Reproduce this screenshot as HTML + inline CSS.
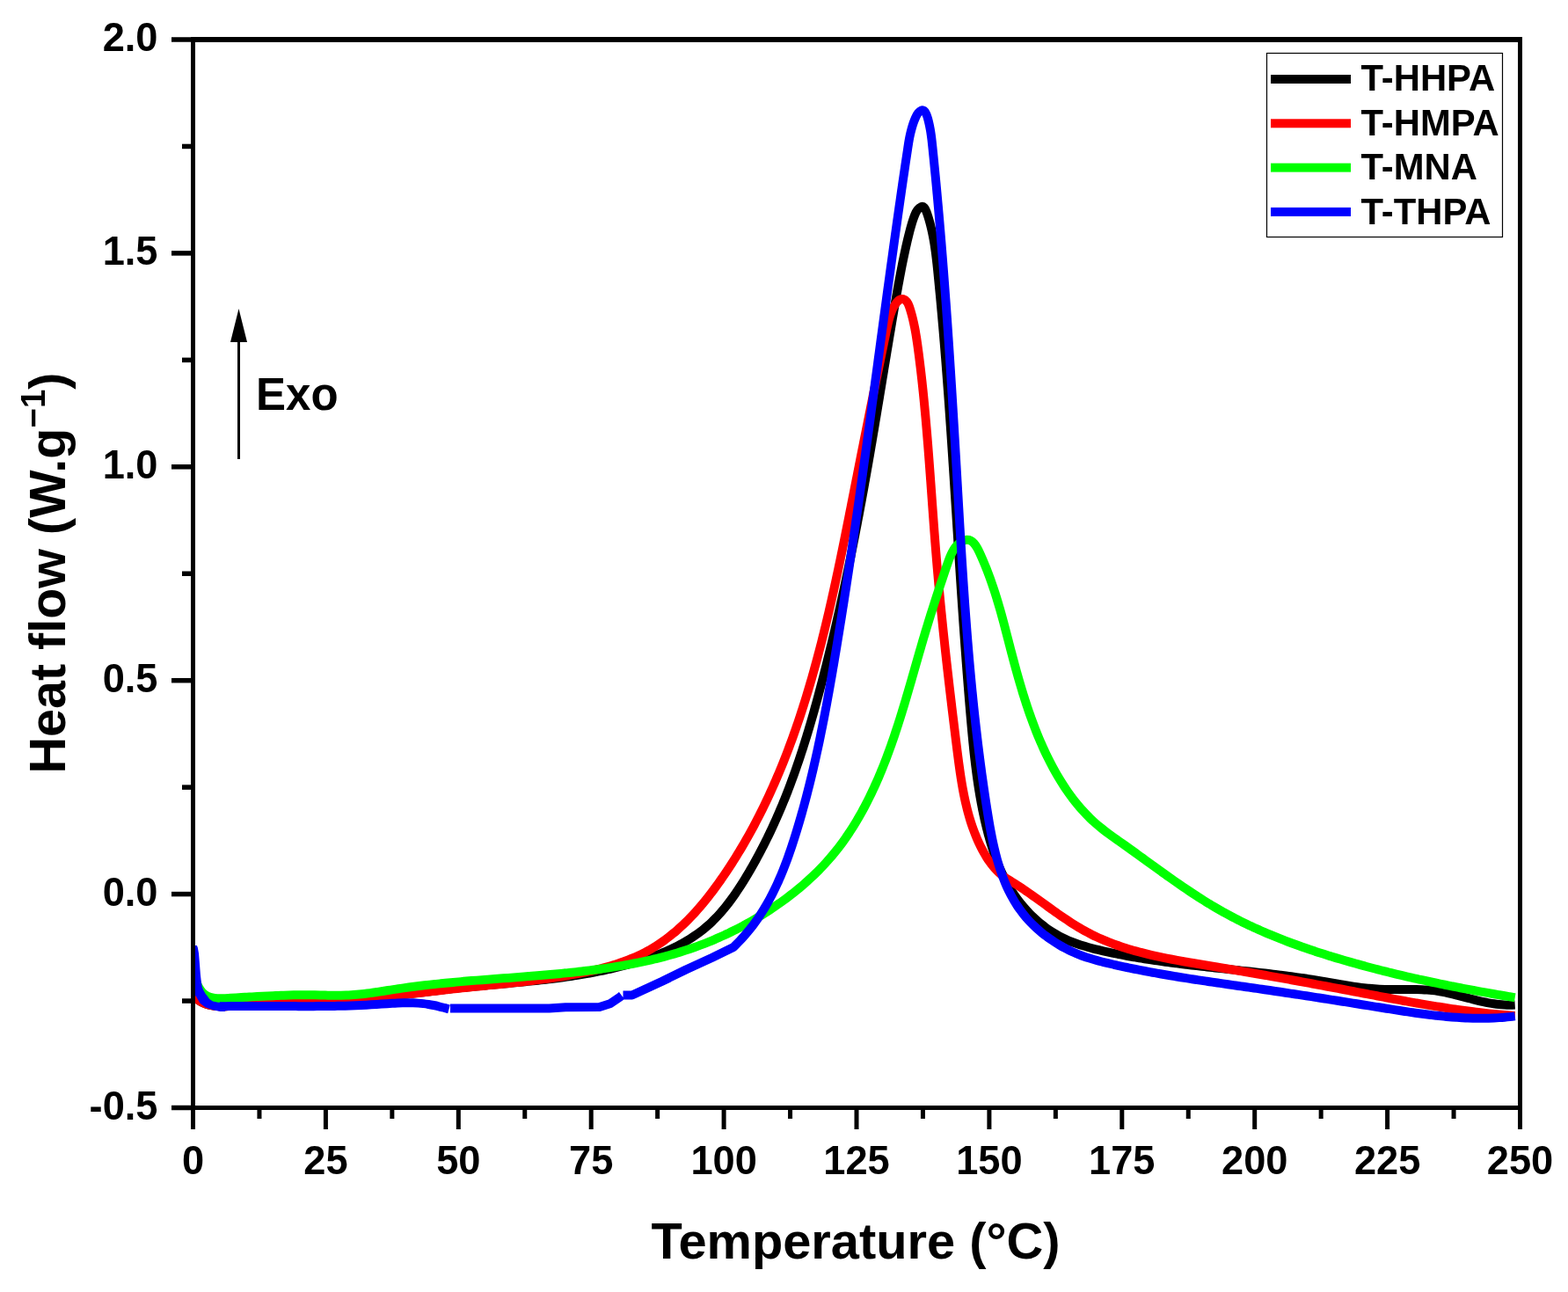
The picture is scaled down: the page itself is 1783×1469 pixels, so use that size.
<!DOCTYPE html>
<html><head><meta charset="utf-8"><title>DSC curves</title>
<style>html,body{margin:0;padding:0;background:#fff;width:1783px;height:1469px;overflow:hidden}svg{display:block}</style>
</head><body>
<svg width="1783" height="1469" viewBox="0 0 1783 1469">
<defs><clipPath id="c"><rect x="222" y="48" width="1504" height="1209"/></clipPath></defs>
<g clip-path="url(#c)">
<path d="M219.00,1131.00 C220.44,1132.68 221.95,1134.17 223.50,1135.47 C225.06,1136.78 226.68,1137.91 228.34,1138.88 C230.01,1139.84 231.72,1140.66 233.47,1141.33 C235.23,1142.00 237.02,1142.54 238.86,1142.96 C240.69,1143.39 242.56,1143.69 244.46,1143.90 C246.36,1144.11 248.29,1144.23 250.24,1144.27 C252.19,1144.31 254.17,1144.28 256.16,1144.20 C258.15,1144.11 260.16,1143.98 262.18,1143.81 C264.20,1143.64 266.23,1143.43 268.26,1143.22 C270.30,1143.01 272.34,1142.78 274.37,1142.57 C276.41,1142.35 278.44,1142.15 280.48,1141.96 C282.51,1141.76 284.54,1141.58 286.57,1141.40 C288.59,1141.23 290.62,1141.06 292.64,1140.91 C294.66,1140.75 296.68,1140.60 298.70,1140.46 C300.72,1140.32 302.74,1140.19 304.75,1140.06 C306.77,1139.93 308.78,1139.81 310.79,1139.70 C312.80,1139.59 314.81,1139.48 316.82,1139.38 C318.83,1139.27 320.83,1139.18 322.84,1139.08 C324.84,1138.99 326.84,1138.90 328.84,1138.82 C330.84,1138.73 332.84,1138.65 334.84,1138.58 C336.84,1138.50 338.84,1138.42 340.83,1138.35 C342.83,1138.28 344.82,1138.21 346.81,1138.14 C348.80,1138.07 350.80,1138.00 352.79,1137.94 C354.78,1137.87 356.76,1137.80 358.75,1137.74 C360.74,1137.67 362.73,1137.60 364.71,1137.53 C366.70,1137.47 368.68,1137.40 370.67,1137.33 C372.65,1137.26 374.63,1137.18 376.62,1137.11 C378.60,1137.03 380.58,1136.96 382.56,1136.88 C384.54,1136.80 386.52,1136.71 388.50,1136.62 C390.48,1136.54 392.46,1136.44 394.44,1136.35 C396.42,1136.25 398.40,1136.15 400.38,1136.04 C402.35,1135.93 404.33,1135.82 406.31,1135.70 C408.29,1135.58 410.26,1135.45 412.24,1135.32 C414.22,1135.19 416.19,1135.04 418.17,1134.90 C420.15,1134.75 422.13,1134.59 424.10,1134.43 C426.08,1134.26 428.06,1134.09 430.03,1133.91 C432.01,1133.73 433.99,1133.54 435.96,1133.35 C437.94,1133.16 439.92,1132.96 441.89,1132.75 C443.87,1132.55 445.85,1132.34 447.83,1132.12 C449.80,1131.91 451.78,1131.69 453.76,1131.47 C455.74,1131.25 457.72,1131.02 459.70,1130.79 C461.68,1130.56 463.65,1130.32 465.63,1130.09 C467.61,1129.85 469.59,1129.61 471.57,1129.37 C473.55,1129.13 475.53,1128.89 477.52,1128.65 C479.50,1128.41 481.48,1128.16 483.46,1127.92 C485.44,1127.68 487.43,1127.43 489.41,1127.19 C491.39,1126.95 493.38,1126.71 495.36,1126.46 C497.35,1126.22 499.33,1125.98 501.32,1125.75 C503.30,1125.51 505.29,1125.27 507.28,1125.04 C509.27,1124.81 511.25,1124.58 513.24,1124.35 C515.23,1124.13 517.22,1123.90 519.21,1123.69 C521.20,1123.47 523.20,1123.25 525.19,1123.04 C527.18,1122.83 529.17,1122.63 531.17,1122.43 C533.16,1122.22 535.15,1122.03 537.15,1121.83 C539.14,1121.63 541.14,1121.44 543.14,1121.25 C545.13,1121.06 547.13,1120.87 549.12,1120.68 C551.12,1120.49 553.12,1120.31 555.11,1120.12 C557.11,1119.94 559.11,1119.75 561.10,1119.57 C563.10,1119.38 565.10,1119.20 567.09,1119.02 C569.09,1118.84 571.09,1118.65 573.08,1118.47 C575.08,1118.29 577.08,1118.10 579.07,1117.92 C581.07,1117.73 583.06,1117.54 585.06,1117.36 C587.05,1117.17 589.05,1116.98 591.04,1116.79 C593.04,1116.59 595.03,1116.40 597.02,1116.20 C599.01,1116.00 601.01,1115.80 603.00,1115.60 C604.99,1115.39 606.98,1115.19 608.97,1114.98 C610.96,1114.77 612.94,1114.55 614.93,1114.33 C616.92,1114.11 618.91,1113.89 620.89,1113.66 C622.87,1113.43 624.86,1113.19 626.84,1112.95 C628.82,1112.71 630.80,1112.47 632.78,1112.21 C634.76,1111.96 636.74,1111.70 638.72,1111.44 C640.69,1111.17 642.67,1110.90 644.64,1110.62 C646.62,1110.34 648.59,1110.06 650.56,1109.76 C652.53,1109.47 654.49,1109.17 656.46,1108.85 C658.43,1108.54 660.39,1108.22 662.35,1107.90 C664.31,1107.57 666.27,1107.23 668.23,1106.88 C670.19,1106.54 672.14,1106.18 674.10,1105.81 C676.05,1105.44 678.00,1105.07 679.95,1104.68 C681.90,1104.29 683.84,1103.89 685.79,1103.48 C687.73,1103.07 689.67,1102.65 691.61,1102.22 C693.55,1101.79 695.48,1101.34 697.42,1100.89 C699.35,1100.43 701.28,1099.96 703.21,1099.48 C705.13,1098.99 707.06,1098.50 708.98,1097.99 C710.90,1097.48 712.82,1096.96 714.73,1096.42 C716.65,1095.88 718.56,1095.33 720.47,1094.77 C722.37,1094.20 724.28,1093.62 726.18,1093.03 C728.08,1092.43 729.98,1091.82 731.88,1091.20 C733.77,1090.57 735.66,1089.93 737.55,1089.27 C739.44,1088.61 741.32,1087.94 743.19,1087.24 C745.07,1086.55 746.94,1085.84 748.80,1085.11 C750.67,1084.38 752.52,1083.63 754.36,1082.86 C756.21,1082.09 758.04,1081.30 759.87,1080.48 C761.69,1079.67 763.50,1078.84 765.30,1077.98 C767.10,1077.12 768.88,1076.24 770.65,1075.33 C772.42,1074.43 774.18,1073.50 775.92,1072.54 C777.65,1071.59 779.37,1070.61 781.08,1069.60 C782.78,1068.59 784.47,1067.56 786.13,1066.49 C787.79,1065.43 789.44,1064.34 791.06,1063.22 C792.68,1062.10 794.28,1060.95 795.86,1059.77 C797.43,1058.58 798.99,1057.37 800.51,1056.13 C802.04,1054.88 803.54,1053.61 805.02,1052.30 C806.49,1050.99 807.94,1049.65 809.37,1048.28 C810.79,1046.92 812.20,1045.52 813.58,1044.10 C814.96,1042.68 816.31,1041.23 817.65,1039.75 C818.98,1038.28 820.30,1036.78 821.59,1035.26 C822.88,1033.74 824.15,1032.20 825.41,1030.64 C826.66,1029.08 827.89,1027.49 829.11,1025.89 C830.32,1024.29 831.52,1022.68 832.70,1021.04 C833.88,1019.41 835.04,1017.76 836.19,1016.10 C837.34,1014.44 838.47,1012.76 839.59,1011.08 C840.70,1009.39 841.80,1007.69 842.89,1005.99 C843.98,1004.28 845.06,1002.57 846.12,1000.84 C847.18,999.12 848.23,997.39 849.27,995.66 C850.31,993.93 851.34,992.19 852.35,990.45 C853.37,988.71 854.38,986.96 855.38,985.22 C856.37,983.47 857.36,981.72 858.33,979.96 C859.31,978.21 860.28,976.45 861.23,974.69 C862.19,972.92 863.13,971.16 864.07,969.39 C865.01,967.62 865.93,965.85 866.85,964.07 C867.77,962.30 868.68,960.52 869.57,958.74 C870.47,956.96 871.36,955.17 872.24,953.38 C873.12,951.59 873.99,949.80 874.85,948.00 C875.71,946.21 876.57,944.41 877.41,942.61 C878.25,940.81 879.09,939.00 879.92,937.19 C880.74,935.38 881.56,933.57 882.37,931.76 C883.18,929.94 883.98,928.12 884.77,926.30 C885.57,924.48 886.35,922.65 887.13,920.83 C887.91,919.00 888.68,917.17 889.44,915.33 C890.20,913.50 890.95,911.66 891.70,909.82 C892.44,907.98 893.18,906.14 893.91,904.29 C894.65,902.44 895.37,900.59 896.09,898.74 C896.80,896.89 897.51,895.03 898.21,893.17 C898.92,891.31 899.61,889.45 900.30,887.59 C900.99,885.72 901.67,883.85 902.35,881.98 C903.02,880.11 903.69,878.24 904.36,876.36 C905.02,874.48 905.68,872.60 906.33,870.72 C906.98,868.84 907.62,866.95 908.26,865.07 C908.90,863.18 909.53,861.29 910.16,859.40 C910.78,857.50 911.40,855.61 912.02,853.71 C912.64,851.82 913.25,849.92 913.85,848.02 C914.46,846.11 915.06,844.21 915.65,842.30 C916.24,840.40 916.83,838.49 917.42,836.58 C918.00,834.67 918.58,832.76 919.16,830.85 C919.73,828.94 920.30,827.02 920.87,825.11 C921.44,823.19 922.00,821.27 922.55,819.35 C923.11,817.43 923.66,815.51 924.21,813.59 C924.76,811.67 925.31,809.74 925.85,807.82 C926.39,805.89 926.93,803.97 927.46,802.04 C928.00,800.11 928.53,798.18 929.05,796.25 C929.58,794.33 930.10,792.40 930.62,790.46 C931.14,788.53 931.66,786.60 932.18,784.67 C932.69,782.74 933.20,780.80 933.71,778.87 C934.22,776.93 934.72,775.00 935.23,773.06 C935.73,771.13 936.23,769.19 936.73,767.26 C937.23,765.32 937.72,763.38 938.22,761.45 C938.71,759.51 939.20,757.57 939.69,755.63 C940.17,753.69 940.66,751.76 941.14,749.82 C941.62,747.88 942.10,745.94 942.58,744.00 C943.06,742.06 943.53,740.12 944.01,738.17 C944.48,736.23 944.95,734.29 945.42,732.35 C945.89,730.41 946.35,728.46 946.82,726.52 C947.28,724.58 947.74,722.63 948.20,720.69 C948.66,718.75 949.11,716.80 949.57,714.86 C950.02,712.91 950.47,710.97 950.92,709.02 C951.37,707.07 951.82,705.13 952.26,703.18 C952.71,701.23 953.15,699.29 953.59,697.34 C954.03,695.39 954.47,693.44 954.90,691.50 C955.34,689.55 955.77,687.60 956.21,685.65 C956.64,683.70 957.07,681.75 957.50,679.80 C957.92,677.85 958.35,675.90 958.77,673.95 C959.20,672.00 959.62,670.05 960.04,668.10 C960.46,666.15 960.87,664.19 961.29,662.24 C961.70,660.29 962.12,658.34 962.53,656.38 C962.94,654.43 963.35,652.48 963.76,650.52 C964.17,648.57 964.57,646.62 964.97,644.66 C965.38,642.71 965.78,640.75 966.18,638.80 C966.58,636.85 966.98,634.89 967.38,632.93 C967.77,630.98 968.17,629.02 968.56,627.07 C968.95,625.11 969.34,623.16 969.73,621.20 C970.12,619.24 970.51,617.29 970.90,615.33 C971.28,613.37 971.67,611.41 972.05,609.46 C972.43,607.50 972.81,605.54 973.19,603.58 C973.57,601.62 973.95,599.67 974.33,597.71 C974.70,595.75 975.08,593.79 975.45,591.83 C975.82,589.87 976.20,587.91 976.57,585.95 C976.94,583.99 977.30,582.03 977.67,580.07 C978.04,578.11 978.40,576.15 978.77,574.19 C979.13,572.23 979.50,570.27 979.86,568.31 C980.22,566.35 980.58,564.39 980.94,562.43 C981.29,560.47 981.65,558.51 982.01,556.54 C982.36,554.58 982.72,552.62 983.07,550.66 C983.42,548.70 983.78,546.73 984.13,544.77 C984.48,542.81 984.83,540.85 985.17,538.89 C985.52,536.92 985.87,534.96 986.21,533.00 C986.56,531.04 986.90,529.07 987.25,527.11 C987.59,525.15 987.93,523.18 988.27,521.22 C988.62,519.26 988.96,517.29 989.29,515.33 C989.63,513.37 989.97,511.40 990.31,509.44 C990.64,507.48 990.98,505.51 991.32,503.55 C991.65,501.58 991.98,499.62 992.32,497.65 C992.65,495.69 992.98,493.73 993.32,491.76 C993.65,489.80 993.98,487.83 994.31,485.87 C994.64,483.90 994.97,481.94 995.30,479.97 C995.63,478.00 995.96,476.04 996.29,474.07 C996.61,472.11 996.94,470.14 997.27,468.18 C997.60,466.21 997.92,464.24 998.25,462.28 C998.58,460.31 998.90,458.34 999.23,456.38 C999.55,454.41 999.88,452.44 1000.21,450.47 C1000.53,448.51 1000.86,446.54 1001.18,444.57 C1001.51,442.60 1001.83,440.64 1002.16,438.67 C1002.48,436.70 1002.81,434.73 1003.13,432.76 C1003.46,430.79 1003.78,428.82 1004.11,426.85 C1004.43,424.88 1004.76,422.91 1005.08,420.94 C1005.41,418.97 1005.73,417.00 1006.06,415.03 C1006.38,413.06 1006.71,411.09 1007.03,409.12 C1007.36,407.15 1007.69,405.18 1008.01,403.21 C1008.34,401.24 1008.67,399.26 1009.00,397.29 C1009.32,395.32 1009.65,393.35 1009.98,391.38 C1010.31,389.40 1010.64,387.43 1010.97,385.46 C1011.30,383.48 1011.63,381.51 1011.96,379.54 C1012.29,377.56 1012.62,375.59 1012.95,373.61 C1013.29,371.64 1013.62,369.66 1013.95,367.69 C1014.29,365.71 1014.62,363.74 1014.96,361.76 C1015.30,359.79 1015.63,357.81 1015.97,355.83 C1016.31,353.86 1016.65,351.88 1016.99,349.90 C1017.33,347.92 1017.67,345.95 1018.01,343.97 C1018.35,341.99 1018.69,340.01 1019.04,338.03 C1019.38,336.06 1019.73,334.08 1020.08,332.10 C1020.43,330.13 1020.78,328.15 1021.14,326.18 C1021.49,324.21 1021.85,322.23 1022.21,320.27 C1022.57,318.30 1022.93,316.33 1023.30,314.36 C1023.67,312.40 1024.04,310.44 1024.42,308.48 C1024.79,306.52 1025.17,304.57 1025.56,302.61 C1025.94,300.66 1026.33,298.72 1026.73,296.77 C1027.13,294.83 1027.53,292.89 1027.93,290.96 C1028.34,289.03 1028.75,287.10 1029.17,285.18 C1029.59,283.25 1030.02,281.34 1030.45,279.43 C1030.88,277.52 1031.32,275.61 1031.77,273.72 C1032.21,271.82 1032.67,269.93 1033.13,268.04 C1033.59,266.16 1034.07,264.28 1034.57,262.37 C1035.07,260.47 1035.60,258.55 1036.17,256.58 C1036.74,254.61 1037.36,252.60 1038.03,250.51 C1038.71,248.43 1039.44,246.26 1040.30,244.20 C1041.17,242.13 1042.17,240.19 1043.39,238.58 C1044.62,236.98 1046.12,235.68 1047.51,235.15 C1048.90,234.62 1050.10,235.00 1051.07,236.10 C1052.03,237.20 1052.80,238.93 1053.50,240.81 C1054.19,242.70 1054.83,244.67 1055.44,246.61 C1056.05,248.55 1056.62,250.50 1057.16,252.45 C1057.70,254.40 1058.20,256.36 1058.68,258.32 C1059.15,260.27 1059.60,262.23 1060.02,264.20 C1060.44,266.16 1060.83,268.13 1061.20,270.10 C1061.57,272.07 1061.91,274.05 1062.24,276.02 C1062.56,278.00 1062.87,279.98 1063.15,281.96 C1063.44,283.94 1063.71,285.92 1063.97,287.90 C1064.22,289.89 1064.47,291.87 1064.70,293.86 C1064.93,295.84 1065.15,297.83 1065.37,299.82 C1065.58,301.81 1065.79,303.79 1066.00,305.78 C1066.20,307.77 1066.40,309.76 1066.60,311.75 C1066.80,313.74 1066.99,315.73 1067.19,317.72 C1067.38,319.71 1067.58,321.70 1067.77,323.68 C1067.96,325.67 1068.15,327.66 1068.34,329.65 C1068.53,331.64 1068.72,333.63 1068.91,335.62 C1069.10,337.61 1069.28,339.60 1069.47,341.59 C1069.65,343.57 1069.83,345.56 1070.01,347.55 C1070.19,349.54 1070.37,351.53 1070.55,353.52 C1070.73,355.51 1070.91,357.50 1071.09,359.49 C1071.26,361.48 1071.44,363.46 1071.61,365.45 C1071.78,367.44 1071.96,369.43 1072.13,371.42 C1072.30,373.41 1072.47,375.40 1072.64,377.39 C1072.81,379.38 1072.97,381.37 1073.14,383.35 C1073.31,385.34 1073.47,387.33 1073.64,389.32 C1073.80,391.31 1073.96,393.30 1074.13,395.29 C1074.29,397.28 1074.45,399.27 1074.61,401.26 C1074.77,403.24 1074.93,405.23 1075.09,407.22 C1075.24,409.21 1075.40,411.20 1075.56,413.19 C1075.71,415.18 1075.87,417.17 1076.02,419.16 C1076.18,421.15 1076.33,423.13 1076.48,425.12 C1076.63,427.11 1076.79,429.10 1076.94,431.09 C1077.09,433.08 1077.24,435.07 1077.38,437.06 C1077.53,439.05 1077.68,441.04 1077.83,443.03 C1077.98,445.02 1078.12,447.00 1078.27,448.99 C1078.41,450.98 1078.56,452.97 1078.70,454.96 C1078.84,456.95 1078.99,458.94 1079.13,460.93 C1079.27,462.92 1079.41,464.91 1079.56,466.90 C1079.70,468.89 1079.84,470.88 1079.98,472.87 C1080.12,474.85 1080.26,476.84 1080.39,478.83 C1080.53,480.82 1080.67,482.81 1080.81,484.80 C1080.94,486.79 1081.08,488.78 1081.22,490.77 C1081.35,492.76 1081.49,494.75 1081.62,496.74 C1081.76,498.73 1081.89,500.72 1082.03,502.71 C1082.16,504.70 1082.29,506.69 1082.43,508.68 C1082.56,510.67 1082.69,512.66 1082.83,514.65 C1082.96,516.64 1083.09,518.63 1083.22,520.62 C1083.35,522.61 1083.48,524.60 1083.61,526.59 C1083.74,528.57 1083.87,530.56 1084.00,532.55 C1084.13,534.54 1084.26,536.53 1084.39,538.52 C1084.52,540.51 1084.65,542.50 1084.78,544.50 C1084.91,546.49 1085.04,548.48 1085.17,550.47 C1085.29,552.46 1085.42,554.45 1085.55,556.44 C1085.68,558.43 1085.81,560.42 1085.93,562.41 C1086.06,564.40 1086.19,566.39 1086.32,568.38 C1086.44,570.37 1086.57,572.36 1086.70,574.35 C1086.82,576.34 1086.95,578.33 1087.08,580.32 C1087.21,582.31 1087.33,584.30 1087.46,586.29 C1087.59,588.28 1087.71,590.27 1087.84,592.27 C1087.97,594.26 1088.09,596.25 1088.22,598.24 C1088.35,600.23 1088.47,602.22 1088.60,604.21 C1088.73,606.20 1088.85,608.19 1088.98,610.18 C1089.11,612.17 1089.24,614.17 1089.36,616.16 C1089.49,618.15 1089.62,620.14 1089.74,622.13 C1089.87,624.12 1090.00,626.11 1090.13,628.10 C1090.26,630.10 1090.38,632.09 1090.51,634.08 C1090.64,636.07 1090.77,638.06 1090.90,640.05 C1091.03,642.05 1091.16,644.04 1091.29,646.03 C1091.42,648.02 1091.55,650.01 1091.68,652.00 C1091.81,654.00 1091.94,655.99 1092.07,657.98 C1092.20,659.97 1092.33,661.96 1092.46,663.96 C1092.59,665.95 1092.72,667.94 1092.86,669.93 C1092.99,671.92 1093.12,673.92 1093.25,675.91 C1093.39,677.90 1093.52,679.89 1093.66,681.89 C1093.79,683.88 1093.92,685.87 1094.06,687.86 C1094.19,689.86 1094.33,691.85 1094.47,693.84 C1094.60,695.83 1094.74,697.83 1094.88,699.82 C1095.01,701.81 1095.15,703.81 1095.29,705.80 C1095.43,707.79 1095.57,709.79 1095.71,711.78 C1095.85,713.77 1095.99,715.76 1096.13,717.76 C1096.27,719.75 1096.41,721.74 1096.56,723.74 C1096.70,725.73 1096.84,727.73 1096.99,729.72 C1097.13,731.71 1097.28,733.71 1097.42,735.70 C1097.57,737.69 1097.71,739.69 1097.86,741.68 C1098.01,743.68 1098.16,745.67 1098.31,747.66 C1098.45,749.66 1098.60,751.65 1098.75,753.65 C1098.91,755.64 1099.06,757.63 1099.21,759.63 C1099.36,761.62 1099.52,763.62 1099.67,765.61 C1099.82,767.61 1099.98,769.60 1100.14,771.60 C1100.29,773.59 1100.45,775.59 1100.61,777.58 C1100.77,779.58 1100.93,781.57 1101.09,783.57 C1101.25,785.56 1101.41,787.56 1101.57,789.55 C1101.73,791.55 1101.90,793.54 1102.06,795.54 C1102.22,797.53 1102.39,799.53 1102.56,801.52 C1102.72,803.52 1102.89,805.51 1103.06,807.51 C1103.23,809.51 1103.40,811.50 1103.57,813.50 C1103.74,815.49 1103.92,817.49 1104.09,819.49 C1104.27,821.48 1104.44,823.48 1104.62,825.47 C1104.80,827.47 1104.98,829.46 1105.17,831.46 C1105.35,833.46 1105.54,835.45 1105.73,837.44 C1105.92,839.44 1106.11,841.43 1106.31,843.42 C1106.50,845.42 1106.70,847.41 1106.91,849.40 C1107.12,851.39 1107.33,853.38 1107.54,855.37 C1107.76,857.36 1107.98,859.35 1108.20,861.34 C1108.43,863.32 1108.66,865.31 1108.90,867.29 C1109.13,869.28 1109.38,871.26 1109.63,873.24 C1109.88,875.22 1110.13,877.20 1110.40,879.18 C1110.66,881.16 1110.93,883.13 1111.21,885.11 C1111.49,887.08 1111.78,889.06 1112.07,891.03 C1112.37,893.00 1112.67,894.97 1112.98,896.93 C1113.30,898.90 1113.62,900.86 1113.95,902.82 C1114.28,904.79 1114.62,906.74 1114.97,908.70 C1115.32,910.66 1115.68,912.61 1116.05,914.56 C1116.42,916.52 1116.80,918.46 1117.19,920.41 C1117.58,922.36 1117.99,924.30 1118.40,926.24 C1118.81,928.18 1119.24,930.12 1119.68,932.05 C1120.12,933.98 1120.57,935.91 1121.03,937.84 C1121.49,939.77 1121.97,941.69 1122.46,943.61 C1122.95,945.53 1123.45,947.45 1123.96,949.36 C1124.48,951.27 1125.01,953.18 1125.56,955.08 C1126.11,956.99 1126.67,958.88 1127.25,960.77 C1127.83,962.66 1128.43,964.55 1129.05,966.43 C1129.67,968.30 1130.31,970.17 1130.97,972.04 C1131.63,973.90 1132.31,975.75 1133.01,977.60 C1133.71,979.44 1134.44,981.28 1135.19,983.10 C1135.94,984.93 1136.71,986.75 1137.51,988.55 C1138.31,990.36 1139.13,992.15 1139.99,993.93 C1140.84,995.71 1141.72,997.48 1142.63,999.24 C1143.54,1001.00 1144.47,1002.74 1145.44,1004.47 C1146.41,1006.20 1147.41,1007.92 1148.44,1009.62 C1149.47,1011.33 1150.53,1013.01 1151.63,1014.68 C1152.72,1016.36 1153.85,1018.01 1155.02,1019.65 C1156.18,1021.29 1157.38,1022.91 1158.61,1024.52 C1159.85,1026.12 1161.11,1027.70 1162.41,1029.26 C1163.71,1030.83 1165.03,1032.37 1166.39,1033.88 C1167.75,1035.39 1169.14,1036.88 1170.56,1038.35 C1171.98,1039.81 1173.43,1041.24 1174.90,1042.65 C1176.38,1044.05 1177.88,1045.43 1179.40,1046.77 C1180.93,1048.11 1182.49,1049.42 1184.06,1050.69 C1185.64,1051.97 1187.24,1053.21 1188.87,1054.41 C1190.50,1055.61 1192.14,1056.77 1193.81,1057.89 C1195.48,1059.02 1197.18,1060.10 1198.89,1061.14 C1200.60,1062.17 1202.33,1063.17 1204.08,1064.12 C1205.83,1065.07 1207.60,1065.97 1209.39,1066.83 C1211.18,1067.69 1212.98,1068.51 1214.80,1069.29 C1216.61,1070.06 1218.45,1070.80 1220.29,1071.51 C1222.14,1072.21 1224.00,1072.88 1225.87,1073.52 C1227.74,1074.15 1229.63,1074.76 1231.52,1075.34 C1233.41,1075.93 1235.31,1076.48 1237.22,1077.01 C1239.13,1077.55 1241.05,1078.06 1242.97,1078.55 C1244.89,1079.04 1246.82,1079.52 1248.76,1079.98 C1250.69,1080.44 1252.63,1080.88 1254.57,1081.32 C1256.51,1081.76 1258.45,1082.19 1260.39,1082.60 C1262.33,1083.02 1264.28,1083.43 1266.23,1083.83 C1268.17,1084.24 1270.12,1084.63 1272.07,1085.01 C1274.02,1085.40 1275.98,1085.77 1277.93,1086.14 C1279.89,1086.51 1281.84,1086.87 1283.80,1087.23 C1285.76,1087.58 1287.72,1087.92 1289.68,1088.26 C1291.64,1088.60 1293.60,1088.93 1295.57,1089.26 C1297.53,1089.59 1299.50,1089.90 1301.46,1090.22 C1303.43,1090.53 1305.40,1090.84 1307.37,1091.14 C1309.34,1091.44 1311.31,1091.73 1313.28,1092.02 C1315.25,1092.31 1317.23,1092.59 1319.20,1092.87 C1321.18,1093.15 1323.15,1093.42 1325.13,1093.69 C1327.11,1093.96 1329.08,1094.23 1331.06,1094.49 C1333.04,1094.75 1335.02,1095.00 1337.00,1095.25 C1338.98,1095.51 1340.96,1095.75 1342.95,1096.00 C1344.93,1096.24 1346.91,1096.48 1348.90,1096.72 C1350.88,1096.96 1352.86,1097.19 1354.85,1097.42 C1356.84,1097.66 1358.82,1097.88 1360.81,1098.11 C1362.79,1098.34 1364.78,1098.56 1366.77,1098.78 C1368.76,1099.01 1370.74,1099.23 1372.73,1099.44 C1374.72,1099.66 1376.71,1099.88 1378.70,1100.10 C1380.69,1100.31 1382.68,1100.53 1384.67,1100.74 C1386.66,1100.95 1388.65,1101.17 1390.64,1101.38 C1392.63,1101.59 1394.62,1101.80 1396.61,1102.02 C1398.60,1102.23 1400.59,1102.44 1402.58,1102.65 C1404.57,1102.86 1406.56,1103.08 1408.55,1103.29 C1410.54,1103.50 1412.53,1103.72 1414.52,1103.93 C1416.51,1104.15 1418.50,1104.36 1420.49,1104.58 C1422.48,1104.80 1424.47,1105.02 1426.46,1105.24 C1428.45,1105.46 1430.44,1105.68 1432.42,1105.91 C1434.41,1106.13 1436.40,1106.36 1438.39,1106.59 C1440.37,1106.82 1442.36,1107.05 1444.35,1107.29 C1446.33,1107.53 1448.32,1107.76 1450.30,1108.01 C1452.29,1108.25 1454.27,1108.49 1456.25,1108.74 C1458.24,1108.99 1460.22,1109.25 1462.20,1109.50 C1464.18,1109.76 1466.17,1110.02 1468.15,1110.29 C1470.13,1110.56 1472.10,1110.83 1474.08,1111.10 C1476.06,1111.38 1478.04,1111.66 1480.01,1111.95 C1481.99,1112.23 1483.96,1112.52 1485.94,1112.82 C1487.91,1113.12 1489.88,1113.42 1491.85,1113.73 C1493.83,1114.04 1495.80,1114.35 1497.76,1114.68 C1499.73,1115.00 1501.70,1115.33 1503.67,1115.66 C1505.63,1115.99 1507.60,1116.33 1509.56,1116.67 C1511.53,1117.01 1513.49,1117.36 1515.45,1117.70 C1517.42,1118.04 1519.38,1118.38 1521.34,1118.72 C1523.30,1119.06 1525.27,1119.39 1527.23,1119.72 C1529.20,1120.05 1531.16,1120.37 1533.12,1120.68 C1535.09,1121.00 1537.06,1121.30 1539.02,1121.59 C1540.99,1121.88 1542.96,1122.16 1544.93,1122.43 C1546.90,1122.70 1548.87,1122.95 1550.85,1123.18 C1552.82,1123.41 1554.80,1123.63 1556.78,1123.83 C1558.76,1124.02 1560.74,1124.20 1562.72,1124.35 C1564.71,1124.51 1566.70,1124.64 1568.69,1124.74 C1570.68,1124.85 1572.67,1124.92 1574.67,1124.98 C1576.67,1125.03 1578.67,1125.07 1580.67,1125.09 C1582.67,1125.10 1584.68,1125.11 1586.68,1125.10 C1588.69,1125.10 1590.69,1125.08 1592.70,1125.07 C1594.71,1125.05 1596.71,1125.04 1598.72,1125.03 C1600.72,1125.02 1602.73,1125.01 1604.73,1125.02 C1606.73,1125.02 1608.73,1125.04 1610.73,1125.08 C1612.73,1125.12 1614.72,1125.18 1616.71,1125.26 C1618.70,1125.34 1620.69,1125.45 1622.67,1125.59 C1624.65,1125.73 1626.63,1125.91 1628.60,1126.12 C1630.57,1126.34 1632.54,1126.59 1634.49,1126.89 C1636.45,1127.18 1638.41,1127.52 1640.36,1127.88 C1642.31,1128.25 1644.25,1128.64 1646.19,1129.06 C1648.13,1129.49 1650.07,1129.93 1652.01,1130.39 C1653.94,1130.86 1655.88,1131.34 1657.81,1131.83 C1659.74,1132.32 1661.67,1132.82 1663.60,1133.33 C1665.54,1133.83 1667.47,1134.34 1669.40,1134.85 C1671.33,1135.35 1673.27,1135.86 1675.20,1136.35 C1677.14,1136.84 1679.08,1137.32 1681.02,1137.79 C1682.96,1138.25 1684.91,1138.70 1686.86,1139.12 C1688.81,1139.54 1690.76,1139.94 1692.72,1140.31 C1694.69,1140.67 1696.65,1141.01 1698.62,1141.31 C1700.60,1141.61 1702.58,1141.87 1704.56,1142.08 C1706.55,1142.29 1708.55,1142.46 1710.55,1142.58 C1712.56,1142.70 1714.57,1142.76 1716.60,1142.77 C1718.62,1142.77 1720.65,1142.72 1722.70,1142.60" fill="none" stroke="#000000" stroke-width="10" stroke-linejoin="round" stroke-linecap="butt"/>
<path d="M219.00,1131.00 C220.43,1132.67 221.92,1134.15 223.47,1135.45 C225.02,1136.75 226.63,1137.87 228.29,1138.84 C229.95,1139.81 231.66,1140.62 233.42,1141.30 C235.17,1141.97 236.97,1142.51 238.81,1142.94 C240.65,1143.36 242.53,1143.67 244.43,1143.89 C246.34,1144.10 248.28,1144.23 250.24,1144.27 C252.20,1144.32 254.18,1144.30 256.19,1144.22 C258.19,1144.14 260.21,1144.01 262.24,1143.84 C264.26,1143.68 266.30,1143.49 268.35,1143.28 C270.39,1143.07 272.44,1142.85 274.48,1142.64 C276.52,1142.43 278.56,1142.23 280.59,1142.04 C282.63,1141.84 284.66,1141.66 286.69,1141.49 C288.72,1141.31 290.74,1141.15 292.76,1140.99 C294.78,1140.83 296.80,1140.68 298.81,1140.54 C300.83,1140.40 302.84,1140.26 304.85,1140.13 C306.86,1140.00 308.87,1139.88 310.87,1139.76 C312.87,1139.64 314.88,1139.53 316.87,1139.42 C318.87,1139.32 320.87,1139.22 322.86,1139.12 C324.86,1139.02 326.85,1138.93 328.84,1138.83 C330.83,1138.74 332.82,1138.66 334.81,1138.57 C336.80,1138.49 338.78,1138.41 340.77,1138.33 C342.75,1138.25 344.73,1138.17 346.71,1138.10 C348.69,1138.02 350.68,1137.95 352.65,1137.87 C354.63,1137.80 356.61,1137.73 358.59,1137.65 C360.57,1137.58 362.54,1137.51 364.52,1137.43 C366.50,1137.36 368.47,1137.29 370.45,1137.21 C372.42,1137.13 374.40,1137.06 376.37,1136.98 C378.35,1136.90 380.32,1136.81 382.30,1136.73 C384.27,1136.65 386.25,1136.56 388.23,1136.47 C390.20,1136.38 392.18,1136.28 394.15,1136.18 C396.13,1136.08 398.11,1135.98 400.09,1135.87 C402.07,1135.76 404.04,1135.65 406.03,1135.53 C408.01,1135.41 409.99,1135.29 411.97,1135.15 C413.95,1135.02 415.94,1134.89 417.92,1134.74 C419.91,1134.60 421.89,1134.44 423.88,1134.28 C425.87,1134.13 427.86,1133.96 429.85,1133.79 C431.84,1133.62 433.83,1133.44 435.83,1133.25 C437.82,1133.07 439.81,1132.88 441.81,1132.68 C443.80,1132.49 445.80,1132.29 447.80,1132.09 C449.79,1131.88 451.79,1131.67 453.79,1131.46 C455.79,1131.25 457.78,1131.03 459.78,1130.82 C461.78,1130.60 463.78,1130.38 465.78,1130.15 C467.78,1129.93 469.78,1129.70 471.77,1129.47 C473.77,1129.25 475.77,1129.02 477.77,1128.78 C479.77,1128.55 481.76,1128.32 483.76,1128.09 C485.76,1127.86 487.75,1127.62 489.75,1127.39 C491.75,1127.16 493.74,1126.93 495.73,1126.70 C497.73,1126.46 499.72,1126.23 501.71,1126.00 C503.70,1125.78 505.69,1125.55 507.68,1125.32 C509.67,1125.10 511.66,1124.87 513.64,1124.65 C515.63,1124.43 517.62,1124.22 519.60,1124.00 C521.58,1123.79 523.56,1123.58 525.54,1123.37 C527.52,1123.16 529.50,1122.96 531.47,1122.75 C533.45,1122.55 535.42,1122.35 537.40,1122.15 C539.37,1121.95 541.34,1121.76 543.31,1121.56 C545.28,1121.36 547.25,1121.17 549.22,1120.97 C551.19,1120.78 553.16,1120.58 555.13,1120.39 C557.09,1120.20 559.06,1120.00 561.03,1119.81 C562.99,1119.61 564.96,1119.42 566.92,1119.22 C568.89,1119.02 570.85,1118.82 572.82,1118.62 C574.78,1118.42 576.75,1118.22 578.71,1118.01 C580.68,1117.81 582.64,1117.60 584.61,1117.39 C586.57,1117.17 588.54,1116.96 590.50,1116.74 C592.47,1116.52 594.43,1116.30 596.40,1116.07 C598.36,1115.85 600.33,1115.62 602.30,1115.38 C604.27,1115.14 606.23,1114.90 608.20,1114.66 C610.17,1114.41 612.14,1114.16 614.11,1113.90 C616.09,1113.64 618.06,1113.37 620.03,1113.10 C622.01,1112.83 623.98,1112.55 625.96,1112.26 C627.93,1111.98 629.91,1111.68 631.89,1111.38 C633.87,1111.08 635.85,1110.77 637.84,1110.45 C639.82,1110.13 641.80,1109.80 643.79,1109.46 C645.78,1109.13 647.77,1108.78 649.76,1108.42 C651.75,1108.07 653.74,1107.70 655.74,1107.32 C657.73,1106.95 659.73,1106.56 661.73,1106.16 C663.72,1105.76 665.72,1105.34 667.71,1104.92 C669.70,1104.49 671.69,1104.05 673.68,1103.59 C675.67,1103.14 677.66,1102.67 679.64,1102.18 C681.62,1101.69 683.59,1101.19 685.56,1100.67 C687.53,1100.15 689.49,1099.61 691.44,1099.05 C693.40,1098.49 695.35,1097.91 697.28,1097.32 C699.22,1096.72 701.15,1096.10 703.07,1095.46 C704.98,1094.83 706.89,1094.16 708.79,1093.48 C710.68,1092.80 712.56,1092.09 714.43,1091.36 C716.30,1090.63 718.15,1089.88 719.99,1089.10 C721.83,1088.32 723.66,1087.51 725.47,1086.68 C727.27,1085.85 729.07,1084.99 730.84,1084.10 C732.61,1083.22 734.37,1082.30 736.10,1081.36 C737.84,1080.41 739.55,1079.44 741.25,1078.44 C742.95,1077.44 744.63,1076.41 746.29,1075.35 C747.94,1074.29 749.59,1073.21 751.21,1072.10 C752.83,1070.99 754.44,1069.86 756.02,1068.70 C757.61,1067.54 759.18,1066.36 760.74,1065.15 C762.29,1063.95 763.82,1062.71 765.34,1061.46 C766.86,1060.21 768.37,1058.94 769.85,1057.64 C771.34,1056.34 772.81,1055.03 774.26,1053.69 C775.72,1052.35 777.16,1051.00 778.58,1049.62 C780.00,1048.25 781.41,1046.85 782.81,1045.44 C784.20,1044.03 785.58,1042.60 786.95,1041.15 C788.31,1039.71 789.66,1038.25 791.00,1036.77 C792.33,1035.29 793.66,1033.80 794.97,1032.29 C796.28,1030.78 797.57,1029.26 798.86,1027.73 C800.14,1026.19 801.41,1024.65 802.67,1023.09 C803.93,1021.53 805.17,1019.96 806.41,1018.38 C807.64,1016.79 808.86,1015.20 810.08,1013.60 C811.29,1012.00 812.49,1010.39 813.67,1008.77 C814.86,1007.15 816.04,1005.52 817.21,1003.88 C818.37,1002.25 819.53,1000.60 820.67,998.95 C821.82,997.31 822.96,995.65 824.08,993.99 C825.21,992.33 826.33,990.67 827.43,989.00 C828.54,987.33 829.64,985.65 830.73,983.97 C831.82,982.29 832.90,980.61 833.97,978.92 C835.04,977.24 836.10,975.54 837.15,973.85 C838.21,972.15 839.25,970.45 840.28,968.74 C841.32,967.04 842.34,965.33 843.36,963.61 C844.38,961.90 845.38,960.18 846.38,958.46 C847.38,956.73 848.37,955.01 849.36,953.28 C850.34,951.54 851.31,949.81 852.28,948.07 C853.24,946.33 854.20,944.59 855.15,942.84 C856.10,941.09 857.04,939.34 857.97,937.58 C858.90,935.83 859.83,934.07 860.74,932.31 C861.66,930.54 862.56,928.78 863.46,927.01 C864.36,925.23 865.26,923.46 866.14,921.68 C867.03,919.90 867.90,918.12 868.77,916.34 C869.64,914.55 870.50,912.76 871.35,910.97 C872.21,909.18 873.05,907.38 873.89,905.58 C874.73,903.78 875.56,901.98 876.38,900.17 C877.21,898.36 878.02,896.55 878.83,894.74 C879.64,892.93 880.44,891.11 881.24,889.29 C882.03,887.47 882.82,885.65 883.60,883.82 C884.38,881.99 885.16,880.16 885.93,878.33 C886.69,876.50 887.45,874.66 888.21,872.82 C888.96,870.99 889.71,869.14 890.45,867.30 C891.19,865.45 891.92,863.61 892.65,861.76 C893.38,859.90 894.10,858.05 894.81,856.20 C895.53,854.34 896.23,852.48 896.94,850.62 C897.64,848.76 898.33,846.89 899.02,845.02 C899.71,843.16 900.40,841.29 901.07,839.41 C901.75,837.54 902.42,835.67 903.09,833.79 C903.75,831.91 904.41,830.03 905.07,828.15 C905.72,826.27 906.37,824.38 907.01,822.49 C907.66,820.61 908.29,818.72 908.92,816.82 C909.56,814.93 910.18,813.04 910.80,811.14 C911.42,809.25 912.04,807.35 912.65,805.45 C913.26,803.55 913.86,801.64 914.46,799.74 C915.06,797.83 915.66,795.92 916.25,794.02 C916.84,792.11 917.42,790.20 918.00,788.28 C918.58,786.37 919.16,784.45 919.73,782.54 C920.30,780.62 920.86,778.70 921.42,776.78 C921.99,774.86 922.54,772.94 923.09,771.02 C923.64,769.09 924.19,767.17 924.73,765.24 C925.28,763.31 925.82,761.38 926.35,759.45 C926.88,757.52 927.41,755.59 927.94,753.66 C928.46,751.72 928.99,749.79 929.50,747.85 C930.02,745.92 930.53,743.98 931.04,742.04 C931.55,740.10 932.06,738.16 932.56,736.22 C933.06,734.28 933.56,732.34 934.06,730.39 C934.55,728.45 935.04,726.50 935.53,724.56 C936.01,722.61 936.50,720.66 936.98,718.71 C937.46,716.77 937.94,714.82 938.41,712.87 C938.88,710.92 939.35,708.97 939.82,707.01 C940.29,705.06 940.75,703.11 941.21,701.15 C941.67,699.20 942.13,697.25 942.59,695.29 C943.04,693.34 943.49,691.38 943.94,689.42 C944.39,687.47 944.84,685.51 945.28,683.55 C945.72,681.59 946.16,679.63 946.60,677.68 C947.04,675.72 947.48,673.76 947.91,671.80 C948.34,669.84 948.77,667.88 949.20,665.92 C949.63,663.96 950.06,661.99 950.48,660.03 C950.91,658.07 951.33,656.11 951.75,654.15 C952.17,652.19 952.59,650.22 953.00,648.26 C953.42,646.30 953.83,644.34 954.24,642.37 C954.65,640.41 955.06,638.45 955.47,636.49 C955.88,634.53 956.29,632.56 956.69,630.60 C957.10,628.64 957.50,626.68 957.90,624.71 C958.31,622.75 958.71,620.79 959.11,618.83 C959.50,616.87 959.90,614.91 960.30,612.94 C960.70,610.98 961.09,609.02 961.49,607.06 C961.88,605.10 962.27,603.14 962.66,601.18 C963.06,599.22 963.45,597.26 963.84,595.30 C964.23,593.35 964.62,591.39 965.01,589.43 C965.40,587.47 965.78,585.52 966.17,583.56 C966.56,581.60 966.95,579.65 967.33,577.69 C967.72,575.74 968.10,573.79 968.49,571.83 C968.87,569.88 969.26,567.93 969.64,565.98 C970.03,564.02 970.41,562.07 970.80,560.12 C971.18,558.17 971.57,556.23 971.95,554.28 C972.34,552.33 972.72,550.38 973.10,548.44 C973.49,546.49 973.87,544.55 974.26,542.60 C974.64,540.66 975.02,538.71 975.41,536.77 C975.79,534.83 976.18,532.89 976.56,530.94 C976.94,529.00 977.33,527.06 977.71,525.12 C978.10,523.18 978.48,521.24 978.87,519.30 C979.25,517.35 979.64,515.41 980.02,513.47 C980.41,511.53 980.79,509.59 981.18,507.65 C981.56,505.71 981.95,503.77 982.33,501.83 C982.72,499.89 983.11,497.95 983.49,496.01 C983.88,494.07 984.27,492.13 984.66,490.19 C985.04,488.25 985.43,486.31 985.82,484.37 C986.21,482.42 986.59,480.48 986.98,478.54 C987.37,476.60 987.76,474.65 988.15,472.71 C988.54,470.77 988.93,468.82 989.32,466.88 C989.71,464.93 990.11,462.99 990.50,461.04 C990.89,459.09 991.28,457.15 991.68,455.20 C992.07,453.25 992.46,451.30 992.86,449.35 C993.25,447.40 993.65,445.45 994.04,443.49 C994.44,441.54 994.84,439.59 995.23,437.63 C995.63,435.68 996.03,433.72 996.43,431.77 C996.83,429.81 997.23,427.85 997.63,425.89 C998.03,423.93 998.43,421.97 998.83,420.00 C999.23,418.04 999.63,416.07 1000.04,414.11 C1000.44,412.14 1000.85,410.17 1001.25,408.20 C1001.66,406.23 1002.06,404.26 1002.47,402.29 C1002.88,400.31 1003.29,398.34 1003.70,396.36 C1004.11,394.38 1004.52,392.40 1004.93,390.42 C1005.34,388.44 1005.75,386.45 1006.17,384.47 C1006.58,382.48 1007.00,380.49 1007.41,378.50 C1007.83,376.51 1008.24,374.52 1008.67,372.52 C1009.09,370.53 1009.52,368.54 1009.98,366.57 C1010.45,364.60 1010.95,362.65 1011.51,360.73 C1012.07,358.81 1012.69,356.93 1013.40,355.10 C1014.10,353.28 1014.89,351.50 1015.79,349.79 C1016.69,348.08 1017.70,346.44 1018.85,344.89 C1019.99,343.33 1021.27,341.89 1022.67,340.99 C1024.08,340.09 1025.65,339.82 1027.17,340.21 C1028.68,340.60 1030.08,341.60 1031.17,343.04 C1032.26,344.47 1033.10,346.32 1033.83,348.31 C1034.55,350.30 1035.18,352.40 1035.77,354.45 C1036.37,356.50 1036.92,358.53 1037.44,360.55 C1037.95,362.57 1038.43,364.58 1038.88,366.58 C1039.32,368.58 1039.74,370.57 1040.13,372.56 C1040.51,374.54 1040.88,376.52 1041.22,378.49 C1041.56,380.46 1041.88,382.42 1042.18,384.38 C1042.49,386.35 1042.78,388.31 1043.06,390.26 C1043.33,392.22 1043.60,394.18 1043.87,396.14 C1044.13,398.09 1044.39,400.05 1044.65,402.02 C1044.90,403.98 1045.16,405.94 1045.40,407.90 C1045.65,409.87 1045.90,411.83 1046.14,413.80 C1046.38,415.77 1046.61,417.73 1046.85,419.70 C1047.08,421.67 1047.31,423.64 1047.53,425.61 C1047.76,427.58 1047.98,429.56 1048.20,431.53 C1048.42,433.51 1048.64,435.48 1048.85,437.46 C1049.06,439.43 1049.27,441.41 1049.48,443.39 C1049.68,445.37 1049.88,447.34 1050.08,449.32 C1050.28,451.30 1050.48,453.29 1050.68,455.27 C1050.87,457.25 1051.06,459.23 1051.25,461.22 C1051.44,463.20 1051.63,465.18 1051.81,467.17 C1052.00,469.15 1052.18,471.14 1052.36,473.13 C1052.54,475.12 1052.71,477.10 1052.89,479.09 C1053.06,481.08 1053.24,483.07 1053.41,485.06 C1053.58,487.05 1053.75,489.04 1053.91,491.03 C1054.08,493.02 1054.25,495.01 1054.41,497.00 C1054.57,499.00 1054.74,500.99 1054.90,502.98 C1055.06,504.97 1055.21,506.97 1055.37,508.96 C1055.53,510.96 1055.69,512.95 1055.84,514.95 C1055.99,516.94 1056.15,518.94 1056.30,520.93 C1056.45,522.93 1056.60,524.92 1056.75,526.92 C1056.90,528.92 1057.05,530.91 1057.20,532.91 C1057.35,534.90 1057.50,536.90 1057.65,538.90 C1057.79,540.90 1057.94,542.89 1058.08,544.89 C1058.23,546.89 1058.38,548.88 1058.52,550.88 C1058.67,552.88 1058.81,554.88 1058.95,556.87 C1059.10,558.87 1059.24,560.87 1059.39,562.87 C1059.53,564.86 1059.68,566.86 1059.82,568.86 C1059.96,570.86 1060.11,572.85 1060.25,574.85 C1060.40,576.85 1060.54,578.84 1060.69,580.84 C1060.83,582.84 1060.98,584.83 1061.13,586.83 C1061.27,588.83 1061.42,590.82 1061.57,592.82 C1061.71,594.81 1061.86,596.81 1062.01,598.80 C1062.16,600.80 1062.31,602.79 1062.46,604.79 C1062.61,606.78 1062.76,608.78 1062.92,610.77 C1063.07,612.76 1063.22,614.76 1063.38,616.75 C1063.53,618.74 1063.69,620.73 1063.85,622.72 C1064.01,624.71 1064.17,626.70 1064.33,628.69 C1064.49,630.68 1064.65,632.67 1064.82,634.66 C1064.98,636.65 1065.15,638.64 1065.31,640.63 C1065.48,642.61 1065.65,644.60 1065.82,646.59 C1065.99,648.57 1066.17,650.56 1066.34,652.54 C1066.52,654.53 1066.69,656.51 1066.87,658.50 C1067.05,660.48 1067.23,662.46 1067.41,664.45 C1067.59,666.43 1067.77,668.41 1067.95,670.39 C1068.14,672.37 1068.32,674.36 1068.51,676.34 C1068.70,678.32 1068.89,680.30 1069.08,682.28 C1069.27,684.26 1069.46,686.24 1069.65,688.22 C1069.84,690.20 1070.04,692.18 1070.23,694.16 C1070.43,696.14 1070.63,698.12 1070.83,700.10 C1071.02,702.08 1071.22,704.06 1071.43,706.03 C1071.63,708.01 1071.83,709.99 1072.03,711.97 C1072.24,713.95 1072.44,715.93 1072.65,717.91 C1072.86,719.88 1073.06,721.86 1073.27,723.84 C1073.48,725.82 1073.69,727.80 1073.91,729.77 C1074.12,731.75 1074.33,733.73 1074.54,735.71 C1074.76,737.69 1074.97,739.67 1075.19,741.64 C1075.41,743.62 1075.62,745.60 1075.84,747.58 C1076.06,749.56 1076.28,751.54 1076.50,753.52 C1076.73,755.50 1076.95,757.47 1077.17,759.45 C1077.39,761.43 1077.62,763.41 1077.85,765.39 C1078.07,767.37 1078.30,769.35 1078.53,771.33 C1078.75,773.32 1078.98,775.30 1079.21,777.28 C1079.44,779.26 1079.67,781.24 1079.90,783.22 C1080.14,785.21 1080.37,787.19 1080.60,789.17 C1080.84,791.15 1081.07,793.14 1081.31,795.12 C1081.54,797.11 1081.78,799.09 1082.02,801.08 C1082.25,803.06 1082.49,805.05 1082.73,807.03 C1082.97,809.02 1083.21,811.01 1083.45,812.99 C1083.69,814.98 1083.93,816.97 1084.18,818.96 C1084.42,820.95 1084.66,822.94 1084.91,824.93 C1085.15,826.92 1085.40,828.91 1085.64,830.90 C1085.89,832.89 1086.13,834.88 1086.38,836.88 C1086.63,838.87 1086.88,840.86 1087.12,842.86 C1087.37,844.85 1087.62,846.85 1087.87,848.85 C1088.12,850.84 1088.37,852.84 1088.62,854.84 C1088.88,856.84 1089.13,858.83 1089.39,860.83 C1089.64,862.83 1089.91,864.83 1090.17,866.83 C1090.44,868.82 1090.71,870.82 1090.99,872.81 C1091.26,874.81 1091.55,876.80 1091.84,878.79 C1092.13,880.78 1092.44,882.77 1092.75,884.75 C1093.06,886.74 1093.38,888.72 1093.71,890.69 C1094.04,892.67 1094.39,894.65 1094.74,896.62 C1095.10,898.58 1095.47,900.55 1095.86,902.51 C1096.24,904.47 1096.64,906.42 1097.06,908.37 C1097.48,910.32 1097.91,912.26 1098.36,914.20 C1098.81,916.13 1099.28,918.06 1099.77,919.99 C1100.26,921.91 1100.76,923.82 1101.29,925.73 C1101.82,927.64 1102.37,929.54 1102.95,931.43 C1103.52,933.32 1104.11,935.20 1104.74,937.07 C1105.36,938.94 1106.00,940.80 1106.67,942.66 C1107.34,944.51 1108.04,946.35 1108.76,948.18 C1109.49,950.01 1110.24,951.84 1111.02,953.64 C1111.81,955.45 1112.62,957.25 1113.46,959.04 C1114.30,960.82 1115.17,962.60 1116.08,964.36 C1116.98,966.12 1117.92,967.87 1118.89,969.60 C1119.87,971.33 1120.87,973.05 1121.92,974.74 C1122.97,976.43 1124.06,978.10 1125.20,979.72 C1126.34,981.35 1127.52,982.93 1128.76,984.47 C1130.00,986.01 1131.29,987.50 1132.64,988.93 C1133.99,990.36 1135.40,991.73 1136.88,993.03 C1138.35,994.33 1139.90,995.55 1141.50,996.70 C1143.11,997.86 1144.77,998.96 1146.45,1000.02 C1148.14,1001.09 1149.85,1002.14 1151.56,1003.19 C1153.27,1004.24 1154.97,1005.31 1156.66,1006.40 C1158.36,1007.48 1160.04,1008.58 1161.71,1009.69 C1163.39,1010.81 1165.06,1011.93 1166.72,1013.07 C1168.38,1014.21 1170.03,1015.35 1171.68,1016.51 C1173.33,1017.66 1174.98,1018.83 1176.62,1020.00 C1178.26,1021.16 1179.89,1022.34 1181.53,1023.52 C1183.16,1024.69 1184.79,1025.87 1186.43,1027.05 C1188.06,1028.23 1189.69,1029.41 1191.32,1030.59 C1192.95,1031.77 1194.58,1032.94 1196.21,1034.11 C1197.84,1035.28 1199.47,1036.45 1201.11,1037.61 C1202.75,1038.76 1204.39,1039.92 1206.03,1041.06 C1207.67,1042.20 1209.32,1043.33 1210.97,1044.45 C1212.62,1045.56 1214.28,1046.67 1215.95,1047.76 C1217.61,1048.85 1219.29,1049.93 1220.97,1050.98 C1222.65,1052.04 1224.34,1053.08 1226.03,1054.10 C1227.73,1055.12 1229.44,1056.12 1231.16,1057.09 C1232.87,1058.07 1234.60,1059.02 1236.34,1059.95 C1238.09,1060.88 1239.84,1061.78 1241.60,1062.66 C1243.37,1063.54 1245.14,1064.40 1246.93,1065.23 C1248.71,1066.07 1250.51,1066.88 1252.32,1067.66 C1254.13,1068.45 1255.94,1069.22 1257.77,1069.96 C1259.60,1070.71 1261.43,1071.44 1263.28,1072.14 C1265.12,1072.85 1266.98,1073.53 1268.84,1074.20 C1270.70,1074.87 1272.58,1075.51 1274.45,1076.14 C1276.33,1076.77 1278.22,1077.39 1280.12,1077.98 C1282.01,1078.58 1283.91,1079.16 1285.82,1079.72 C1287.73,1080.29 1289.65,1080.83 1291.57,1081.37 C1293.49,1081.90 1295.42,1082.42 1297.35,1082.93 C1299.29,1083.43 1301.23,1083.92 1303.17,1084.40 C1305.12,1084.88 1307.07,1085.35 1309.02,1085.80 C1310.98,1086.26 1312.94,1086.70 1314.90,1087.14 C1316.87,1087.57 1318.83,1087.99 1320.81,1088.41 C1322.78,1088.82 1324.75,1089.22 1326.73,1089.62 C1328.71,1090.01 1330.69,1090.40 1332.67,1090.78 C1334.65,1091.16 1336.64,1091.53 1338.63,1091.90 C1340.61,1092.26 1342.60,1092.62 1344.59,1092.98 C1346.58,1093.33 1348.58,1093.68 1350.57,1094.02 C1352.56,1094.37 1354.55,1094.71 1356.55,1095.04 C1358.54,1095.38 1360.54,1095.71 1362.53,1096.05 C1364.52,1096.38 1366.51,1096.71 1368.51,1097.03 C1370.50,1097.36 1372.49,1097.69 1374.48,1098.01 C1376.47,1098.34 1378.46,1098.66 1380.44,1098.99 C1382.43,1099.32 1384.41,1099.65 1386.40,1099.97 C1388.38,1100.30 1390.36,1100.63 1392.34,1100.96 C1394.32,1101.29 1396.29,1101.62 1398.27,1101.95 C1400.24,1102.28 1402.22,1102.61 1404.19,1102.95 C1406.16,1103.28 1408.13,1103.61 1410.10,1103.95 C1412.07,1104.28 1414.04,1104.62 1416.00,1104.95 C1417.97,1105.29 1419.93,1105.63 1421.90,1105.96 C1423.86,1106.30 1425.82,1106.64 1427.79,1106.98 C1429.75,1107.32 1431.71,1107.66 1433.67,1108.00 C1435.63,1108.34 1437.58,1108.68 1439.54,1109.02 C1441.50,1109.36 1443.46,1109.71 1445.41,1110.05 C1447.37,1110.40 1449.32,1110.74 1451.28,1111.09 C1453.23,1111.43 1455.18,1111.78 1457.14,1112.13 C1459.09,1112.47 1461.04,1112.82 1463.00,1113.17 C1464.95,1113.52 1466.90,1113.87 1468.85,1114.22 C1470.80,1114.57 1472.75,1114.92 1474.70,1115.27 C1476.65,1115.63 1478.61,1115.98 1480.56,1116.33 C1482.51,1116.69 1484.46,1117.04 1486.41,1117.40 C1488.36,1117.76 1490.31,1118.11 1492.26,1118.47 C1494.21,1118.83 1496.16,1119.19 1498.11,1119.55 C1500.06,1119.91 1502.01,1120.27 1503.96,1120.63 C1505.91,1120.99 1507.87,1121.35 1509.82,1121.72 C1511.77,1122.08 1513.72,1122.44 1515.68,1122.81 C1517.63,1123.17 1519.58,1123.54 1521.54,1123.91 C1523.49,1124.27 1525.45,1124.64 1527.40,1125.01 C1529.36,1125.38 1531.32,1125.75 1533.27,1126.12 C1535.23,1126.49 1537.19,1126.86 1539.15,1127.23 C1541.11,1127.60 1543.07,1127.98 1545.03,1128.35 C1546.99,1128.72 1548.95,1129.09 1550.91,1129.47 C1552.88,1129.84 1554.84,1130.21 1556.80,1130.59 C1558.77,1130.96 1560.73,1131.33 1562.70,1131.70 C1564.66,1132.07 1566.63,1132.44 1568.59,1132.81 C1570.56,1133.18 1572.53,1133.55 1574.49,1133.92 C1576.46,1134.29 1578.43,1134.66 1580.40,1135.02 C1582.37,1135.39 1584.34,1135.75 1586.31,1136.11 C1588.28,1136.48 1590.25,1136.84 1592.22,1137.20 C1594.19,1137.55 1596.16,1137.91 1598.13,1138.26 C1600.10,1138.62 1602.07,1138.97 1604.05,1139.32 C1606.02,1139.67 1607.99,1140.02 1609.97,1140.36 C1611.94,1140.71 1613.91,1141.05 1615.89,1141.39 C1617.86,1141.72 1619.84,1142.06 1621.81,1142.39 C1623.79,1142.72 1625.76,1143.05 1627.74,1143.38 C1629.72,1143.70 1631.69,1144.02 1633.67,1144.34 C1635.65,1144.65 1637.62,1144.97 1639.60,1145.28 C1641.58,1145.59 1643.55,1145.89 1645.53,1146.19 C1647.51,1146.49 1649.49,1146.79 1651.46,1147.08 C1653.44,1147.37 1655.42,1147.65 1657.40,1147.94 C1659.38,1148.22 1661.36,1148.49 1663.33,1148.76 C1665.31,1149.03 1667.29,1149.30 1669.27,1149.56 C1671.25,1149.82 1673.23,1150.07 1675.21,1150.32 C1677.19,1150.57 1679.16,1150.81 1681.14,1151.05 C1683.12,1151.28 1685.10,1151.51 1687.08,1151.74 C1689.06,1151.96 1691.04,1152.18 1693.02,1152.39 C1695.00,1152.60 1696.98,1152.80 1698.96,1153.00 C1700.94,1153.19 1702.91,1153.38 1704.89,1153.57 C1706.87,1153.75 1708.85,1153.92 1710.83,1154.09 C1712.81,1154.26 1714.79,1154.42 1716.76,1154.57 C1718.74,1154.72 1720.72,1154.86 1722.70,1155.00" fill="none" stroke="#ff0000" stroke-width="10" stroke-linejoin="round" stroke-linecap="butt"/>
<path d="M221.00,1105.00 C221.11,1106.89 221.38,1108.88 221.80,1110.90 C222.23,1112.92 222.81,1114.96 223.54,1116.95 C224.26,1118.94 225.14,1120.88 226.15,1122.69 C227.17,1124.51 228.32,1126.19 229.61,1127.67 C230.89,1129.14 232.31,1130.41 233.84,1131.41 C235.38,1132.41 237.03,1133.17 238.77,1133.74 C240.51,1134.31 242.34,1134.69 244.23,1134.93 C246.13,1135.17 248.09,1135.28 250.08,1135.30 C252.08,1135.31 254.11,1135.25 256.15,1135.15 C258.19,1135.05 260.24,1134.93 262.28,1134.81 C264.32,1134.69 266.36,1134.57 268.39,1134.45 C270.42,1134.33 272.45,1134.21 274.47,1134.09 C276.50,1133.97 278.51,1133.85 280.53,1133.73 C282.54,1133.61 284.55,1133.50 286.56,1133.38 C288.57,1133.27 290.57,1133.15 292.57,1133.04 C294.57,1132.93 296.57,1132.82 298.57,1132.72 C300.56,1132.61 302.55,1132.51 304.54,1132.42 C306.53,1132.32 308.52,1132.23 310.51,1132.14 C312.49,1132.05 314.48,1131.97 316.46,1131.89 C318.44,1131.81 320.43,1131.74 322.41,1131.68 C324.39,1131.61 326.37,1131.55 328.35,1131.50 C330.32,1131.45 332.30,1131.40 334.28,1131.37 C336.26,1131.33 338.24,1131.30 340.21,1131.28 C342.19,1131.26 344.17,1131.25 346.15,1131.25 C348.13,1131.25 350.10,1131.25 352.08,1131.27 C354.06,1131.29 356.04,1131.32 358.03,1131.36 C360.01,1131.39 361.99,1131.44 363.98,1131.48 C365.96,1131.53 367.94,1131.58 369.93,1131.62 C371.91,1131.67 373.90,1131.71 375.88,1131.74 C377.87,1131.77 379.85,1131.80 381.83,1131.80 C383.82,1131.81 385.80,1131.80 387.79,1131.77 C389.77,1131.75 391.75,1131.70 393.73,1131.62 C395.71,1131.55 397.69,1131.44 399.67,1131.32 C401.65,1131.19 403.63,1131.03 405.61,1130.85 C407.58,1130.67 409.56,1130.47 411.54,1130.25 C413.51,1130.04 415.49,1129.80 417.46,1129.55 C419.43,1129.29 421.41,1129.03 423.38,1128.75 C425.36,1128.47 427.33,1128.18 429.30,1127.88 C431.28,1127.59 433.25,1127.28 435.22,1126.98 C437.19,1126.67 439.17,1126.36 441.14,1126.05 C443.11,1125.74 445.09,1125.43 447.06,1125.12 C449.04,1124.81 451.01,1124.51 452.99,1124.22 C454.96,1123.92 456.94,1123.63 458.91,1123.35 C460.89,1123.07 462.87,1122.80 464.84,1122.53 C466.82,1122.26 468.80,1122.00 470.78,1121.75 C472.75,1121.49 474.73,1121.25 476.71,1121.00 C478.69,1120.76 480.67,1120.52 482.65,1120.29 C484.63,1120.06 486.61,1119.83 488.59,1119.61 C490.58,1119.39 492.56,1119.18 494.54,1118.97 C496.52,1118.75 498.50,1118.55 500.49,1118.35 C502.47,1118.14 504.45,1117.95 506.44,1117.75 C508.42,1117.56 510.41,1117.37 512.39,1117.18 C514.37,1117.00 516.36,1116.82 518.34,1116.64 C520.33,1116.46 522.31,1116.28 524.30,1116.11 C526.29,1115.94 528.27,1115.77 530.26,1115.60 C532.24,1115.43 534.23,1115.27 536.22,1115.10 C538.20,1114.94 540.19,1114.78 542.18,1114.62 C544.16,1114.46 546.15,1114.31 548.14,1114.15 C550.13,1114.00 552.11,1113.84 554.10,1113.69 C556.09,1113.54 558.08,1113.39 560.07,1113.23 C562.05,1113.08 564.04,1112.93 566.03,1112.78 C568.02,1112.63 570.01,1112.48 572.00,1112.34 C573.98,1112.19 575.97,1112.04 577.96,1111.89 C579.95,1111.74 581.94,1111.59 583.93,1111.44 C585.92,1111.29 587.91,1111.14 589.89,1110.98 C591.88,1110.83 593.87,1110.68 595.86,1110.52 C597.85,1110.37 599.84,1110.21 601.83,1110.05 C603.82,1109.90 605.80,1109.74 607.79,1109.57 C609.78,1109.41 611.77,1109.25 613.76,1109.08 C615.75,1108.92 617.74,1108.75 619.72,1108.57 C621.71,1108.40 623.70,1108.23 625.69,1108.05 C627.68,1107.87 629.66,1107.69 631.65,1107.51 C633.64,1107.32 635.63,1107.13 637.61,1106.94 C639.60,1106.75 641.59,1106.55 643.57,1106.35 C645.56,1106.15 647.55,1105.95 649.53,1105.74 C651.52,1105.53 653.51,1105.31 655.49,1105.10 C657.48,1104.88 659.46,1104.65 661.45,1104.42 C663.43,1104.19 665.42,1103.96 667.40,1103.72 C669.39,1103.48 671.37,1103.23 673.36,1102.98 C675.34,1102.73 677.32,1102.47 679.30,1102.20 C681.29,1101.94 683.27,1101.67 685.25,1101.39 C687.23,1101.11 689.21,1100.82 691.19,1100.53 C693.17,1100.23 695.14,1099.93 697.12,1099.63 C699.10,1099.32 701.07,1099.00 703.04,1098.68 C705.02,1098.35 706.99,1098.02 708.96,1097.68 C710.93,1097.33 712.90,1096.98 714.86,1096.62 C716.83,1096.26 718.79,1095.89 720.75,1095.51 C722.71,1095.14 724.67,1094.75 726.63,1094.35 C728.58,1093.95 730.54,1093.54 732.49,1093.12 C734.44,1092.70 736.39,1092.27 738.34,1091.83 C740.28,1091.39 742.23,1090.94 744.16,1090.48 C746.10,1090.02 748.04,1089.54 749.97,1089.06 C751.91,1088.57 753.84,1088.07 755.76,1087.57 C757.69,1087.06 759.61,1086.53 761.53,1086.00 C763.45,1085.46 765.37,1084.92 767.28,1084.36 C769.19,1083.80 771.10,1083.22 773.00,1082.64 C774.90,1082.05 776.80,1081.45 778.70,1080.84 C780.59,1080.22 782.48,1079.59 784.37,1078.95 C786.25,1078.31 788.13,1077.65 790.01,1076.98 C791.88,1076.31 793.76,1075.63 795.62,1074.93 C797.49,1074.23 799.35,1073.52 801.20,1072.80 C803.06,1072.07 804.91,1071.33 806.75,1070.58 C808.60,1069.83 810.44,1069.06 812.27,1068.28 C814.11,1067.50 815.93,1066.71 817.76,1065.90 C819.58,1065.09 821.40,1064.27 823.21,1063.44 C825.02,1062.60 826.82,1061.76 828.62,1060.90 C830.42,1060.04 832.21,1059.16 833.99,1058.27 C835.78,1057.39 837.56,1056.49 839.33,1055.57 C841.10,1054.66 842.86,1053.73 844.62,1052.79 C846.38,1051.85 848.13,1050.90 849.88,1049.93 C851.62,1048.96 853.36,1047.98 855.09,1046.99 C856.82,1046.00 858.54,1044.99 860.25,1043.97 C861.97,1042.96 863.67,1041.92 865.37,1040.88 C867.07,1039.84 868.76,1038.78 870.45,1037.71 C872.13,1036.64 873.81,1035.56 875.47,1034.46 C877.14,1033.36 878.80,1032.26 880.45,1031.14 C882.10,1030.01 883.74,1028.88 885.38,1027.73 C887.01,1026.59 888.64,1025.43 890.25,1024.26 C891.86,1023.08 893.47,1021.90 895.06,1020.70 C896.66,1019.50 898.24,1018.29 899.82,1017.07 C901.39,1015.84 902.95,1014.61 904.51,1013.35 C906.06,1012.10 907.60,1010.84 909.13,1009.56 C910.66,1008.29 912.17,1007.00 913.68,1005.69 C915.18,1004.39 916.67,1003.07 918.15,1001.74 C919.63,1000.41 921.10,999.06 922.55,997.71 C924.00,996.35 925.44,994.98 926.87,993.59 C928.29,992.20 929.71,990.81 931.10,989.39 C932.50,987.98 933.88,986.55 935.25,985.11 C936.62,983.67 937.97,982.22 939.30,980.75 C940.64,979.28 941.96,977.79 943.27,976.30 C944.57,974.80 945.86,973.29 947.13,971.76 C948.40,970.24 949.65,968.70 950.89,967.14 C952.13,965.59 953.35,964.02 954.55,962.44 C955.76,960.86 956.94,959.26 958.12,957.66 C959.29,956.05 960.44,954.43 961.58,952.80 C962.72,951.17 963.84,949.52 964.95,947.87 C966.05,946.21 967.15,944.55 968.22,942.87 C969.30,941.19 970.36,939.51 971.41,937.81 C972.45,936.12 973.48,934.41 974.50,932.69 C975.52,930.98 976.52,929.26 977.51,927.52 C978.50,925.79 979.47,924.05 980.43,922.31 C981.39,920.56 982.34,918.80 983.27,917.04 C984.21,915.28 985.13,913.51 986.03,911.74 C986.94,909.96 987.84,908.18 988.72,906.39 C989.60,904.60 990.47,902.81 991.33,901.01 C992.18,899.21 993.03,897.40 993.86,895.59 C994.70,893.78 995.52,891.96 996.33,890.14 C997.14,888.31 997.94,886.49 998.73,884.65 C999.52,882.82 1000.30,880.98 1001.07,879.14 C1001.84,877.29 1002.60,875.45 1003.35,873.59 C1004.10,871.74 1004.84,869.88 1005.57,868.02 C1006.30,866.16 1007.02,864.29 1007.73,862.42 C1008.44,860.56 1009.15,858.68 1009.84,856.80 C1010.54,854.93 1011.23,853.05 1011.90,851.16 C1012.58,849.28 1013.26,847.39 1013.92,845.50 C1014.58,843.61 1015.24,841.72 1015.89,839.82 C1016.54,837.92 1017.18,836.03 1017.82,834.12 C1018.46,832.22 1019.09,830.32 1019.71,828.41 C1020.34,826.51 1020.95,824.60 1021.57,822.69 C1022.18,820.78 1022.79,818.87 1023.39,816.96 C1023.99,815.04 1024.59,813.13 1025.18,811.21 C1025.77,809.30 1026.36,807.38 1026.94,805.46 C1027.53,803.54 1028.11,801.62 1028.68,799.70 C1029.26,797.79 1029.83,795.86 1030.40,793.94 C1030.97,792.02 1031.54,790.10 1032.10,788.18 C1032.66,786.26 1033.22,784.34 1033.78,782.42 C1034.34,780.50 1034.90,778.58 1035.45,776.66 C1036.00,774.74 1036.56,772.82 1037.11,770.90 C1037.66,768.98 1038.21,767.06 1038.76,765.15 C1039.30,763.23 1039.85,761.32 1040.40,759.40 C1040.95,757.49 1041.49,755.58 1042.04,753.66 C1042.59,751.75 1043.13,749.85 1043.68,747.94 C1044.23,746.03 1044.78,744.13 1045.33,742.22 C1045.88,740.32 1046.43,738.42 1046.98,736.52 C1047.53,734.63 1048.08,732.73 1048.63,730.84 C1049.19,728.95 1049.75,727.06 1050.30,725.17 C1050.86,723.29 1051.42,721.40 1051.99,719.53 C1052.55,717.65 1053.12,715.77 1053.69,713.90 C1054.26,712.02 1054.83,710.15 1055.41,708.28 C1055.98,706.41 1056.56,704.54 1057.14,702.67 C1057.73,700.80 1058.31,698.93 1058.90,697.06 C1059.50,695.18 1060.09,693.31 1060.69,691.43 C1061.29,689.56 1061.89,687.68 1062.50,685.79 C1063.10,683.91 1063.72,682.02 1064.33,680.12 C1064.95,678.23 1065.57,676.33 1066.19,674.42 C1066.82,672.52 1067.45,670.60 1068.09,668.68 C1068.72,666.76 1069.37,664.83 1070.01,662.89 C1070.66,660.95 1071.31,659.01 1071.97,657.05 C1072.63,655.09 1073.29,653.12 1073.96,651.14 C1074.63,649.16 1075.31,647.17 1075.99,645.16 C1076.68,643.15 1077.36,641.13 1078.07,639.12 C1078.79,637.11 1079.53,635.11 1080.33,633.17 C1081.13,631.23 1081.99,629.35 1082.94,627.56 C1083.89,625.77 1084.93,624.08 1086.09,622.52 C1087.26,620.96 1088.54,619.54 1089.97,618.29 C1091.40,617.04 1092.96,615.97 1094.56,615.19 C1096.15,614.42 1097.79,613.93 1099.36,613.84 C1100.94,613.74 1102.45,614.06 1103.83,614.75 C1105.21,615.44 1106.47,616.51 1107.64,617.84 C1108.81,619.17 1109.88,620.76 1110.89,622.51 C1111.91,624.26 1112.85,626.16 1113.76,628.11 C1114.67,630.06 1115.55,632.03 1116.41,633.99 C1117.27,635.95 1118.10,637.90 1118.92,639.85 C1119.73,641.80 1120.53,643.75 1121.30,645.69 C1122.08,647.63 1122.83,649.57 1123.57,651.50 C1124.30,653.44 1125.02,655.37 1125.72,657.30 C1126.42,659.22 1127.10,661.15 1127.77,663.07 C1128.44,664.99 1129.09,666.91 1129.73,668.83 C1130.37,670.74 1130.99,672.66 1131.60,674.57 C1132.21,676.48 1132.81,678.39 1133.40,680.30 C1133.98,682.20 1134.56,684.11 1135.12,686.01 C1135.69,687.92 1136.25,689.82 1136.79,691.73 C1137.34,693.63 1137.88,695.53 1138.41,697.43 C1138.94,699.33 1139.46,701.23 1139.98,703.13 C1140.49,705.03 1141.01,706.93 1141.51,708.83 C1142.02,710.73 1142.52,712.63 1143.02,714.53 C1143.52,716.43 1144.02,718.33 1144.51,720.23 C1145.01,722.13 1145.50,724.04 1145.99,725.94 C1146.48,727.84 1146.98,729.75 1147.47,731.65 C1147.96,733.56 1148.46,735.47 1148.95,737.38 C1149.45,739.29 1149.95,741.20 1150.45,743.11 C1150.95,745.03 1151.46,746.94 1151.97,748.86 C1152.48,750.78 1152.99,752.69 1153.51,754.61 C1154.03,756.53 1154.55,758.45 1155.08,760.37 C1155.61,762.29 1156.14,764.22 1156.68,766.14 C1157.22,768.06 1157.76,769.98 1158.32,771.90 C1158.87,773.82 1159.42,775.74 1159.99,777.66 C1160.55,779.58 1161.12,781.50 1161.70,783.42 C1162.27,785.33 1162.86,787.25 1163.45,789.16 C1164.04,791.08 1164.64,792.99 1165.25,794.90 C1165.86,796.81 1166.48,798.72 1167.10,800.62 C1167.73,802.53 1168.36,804.43 1169.01,806.33 C1169.65,808.23 1170.30,810.13 1170.97,812.02 C1171.63,813.91 1172.30,815.80 1172.99,817.69 C1173.67,819.57 1174.37,821.45 1175.07,823.33 C1175.78,825.21 1176.50,827.08 1177.23,828.95 C1177.96,830.81 1178.70,832.68 1179.45,834.53 C1180.20,836.39 1180.97,838.24 1181.75,840.09 C1182.52,841.93 1183.31,843.77 1184.12,845.61 C1184.92,847.44 1185.74,849.27 1186.57,851.09 C1187.40,852.91 1188.25,854.72 1189.11,856.53 C1189.97,858.33 1190.84,860.13 1191.73,861.93 C1192.62,863.72 1193.53,865.50 1194.45,867.28 C1195.37,869.05 1196.30,870.82 1197.26,872.58 C1198.21,874.34 1199.18,876.09 1200.16,877.83 C1201.15,879.58 1202.15,881.31 1203.17,883.03 C1204.19,884.76 1205.22,886.47 1206.28,888.17 C1207.33,889.87 1208.40,891.56 1209.49,893.24 C1210.58,894.92 1211.69,896.58 1212.82,898.23 C1213.95,899.88 1215.09,901.52 1216.26,903.14 C1217.43,904.76 1218.61,906.36 1219.82,907.95 C1221.03,909.54 1222.25,911.11 1223.50,912.66 C1224.75,914.21 1226.01,915.74 1227.30,917.26 C1228.59,918.77 1229.90,920.26 1231.24,921.73 C1232.57,923.20 1233.92,924.65 1235.30,926.08 C1236.68,927.50 1238.08,928.91 1239.50,930.29 C1240.92,931.66 1242.37,933.02 1243.84,934.35 C1245.31,935.67 1246.80,936.98 1248.31,938.25 C1249.83,939.53 1251.37,940.79 1252.92,942.02 C1254.47,943.26 1256.04,944.47 1257.63,945.68 C1259.21,946.88 1260.81,948.07 1262.42,949.24 C1264.03,950.42 1265.65,951.59 1267.27,952.75 C1268.89,953.91 1270.53,955.07 1272.16,956.22 C1273.79,957.38 1275.43,958.53 1277.06,959.68 C1278.70,960.84 1280.33,962.00 1281.96,963.16 C1283.59,964.32 1285.22,965.49 1286.85,966.66 C1288.48,967.83 1290.10,969.00 1291.73,970.17 C1293.36,971.34 1294.98,972.51 1296.61,973.69 C1298.23,974.86 1299.86,976.04 1301.48,977.22 C1303.10,978.39 1304.73,979.57 1306.35,980.75 C1307.98,981.92 1309.60,983.10 1311.23,984.27 C1312.85,985.45 1314.48,986.62 1316.10,987.79 C1317.73,988.97 1319.36,990.14 1320.99,991.30 C1322.62,992.47 1324.25,993.64 1325.88,994.80 C1327.51,995.96 1329.14,997.12 1330.78,998.28 C1332.42,999.44 1334.05,1000.59 1335.69,1001.73 C1337.33,1002.88 1338.98,1004.03 1340.62,1005.16 C1342.27,1006.30 1343.92,1007.44 1345.57,1008.56 C1347.22,1009.69 1348.87,1010.81 1350.53,1011.93 C1352.19,1013.04 1353.85,1014.15 1355.51,1015.25 C1357.18,1016.35 1358.85,1017.45 1360.52,1018.53 C1362.19,1019.62 1363.87,1020.70 1365.55,1021.77 C1367.24,1022.84 1368.92,1023.90 1370.61,1024.95 C1372.31,1026.00 1374.00,1027.04 1375.70,1028.08 C1377.41,1029.11 1379.11,1030.13 1380.83,1031.15 C1382.54,1032.16 1384.26,1033.16 1385.98,1034.15 C1387.71,1035.14 1389.44,1036.12 1391.17,1037.09 C1392.91,1038.05 1394.65,1039.01 1396.40,1039.96 C1398.15,1040.90 1399.91,1041.83 1401.67,1042.76 C1403.43,1043.68 1405.19,1044.59 1406.96,1045.49 C1408.74,1046.40 1410.51,1047.29 1412.29,1048.17 C1414.08,1049.05 1415.86,1049.92 1417.66,1050.78 C1419.45,1051.64 1421.25,1052.49 1423.05,1053.33 C1424.85,1054.17 1426.66,1055.00 1428.47,1055.82 C1430.28,1056.64 1432.10,1057.45 1433.92,1058.25 C1435.74,1059.05 1437.57,1059.84 1439.40,1060.63 C1441.23,1061.41 1443.06,1062.18 1444.90,1062.95 C1446.74,1063.71 1448.58,1064.47 1450.43,1065.22 C1452.28,1065.97 1454.13,1066.70 1455.98,1067.44 C1457.84,1068.17 1459.69,1068.89 1461.55,1069.60 C1463.42,1070.32 1465.28,1071.02 1467.15,1071.72 C1469.02,1072.42 1470.89,1073.11 1472.77,1073.79 C1474.64,1074.48 1476.52,1075.15 1478.40,1075.82 C1480.28,1076.49 1482.17,1077.15 1484.05,1077.80 C1485.94,1078.46 1487.83,1079.10 1489.72,1079.74 C1491.61,1080.38 1493.51,1081.01 1495.41,1081.64 C1497.30,1082.27 1499.20,1082.89 1501.10,1083.50 C1503.01,1084.11 1504.91,1084.72 1506.82,1085.32 C1508.72,1085.92 1510.63,1086.52 1512.54,1087.11 C1514.45,1087.70 1516.36,1088.28 1518.28,1088.86 C1520.19,1089.44 1522.10,1090.01 1524.02,1090.57 C1525.94,1091.14 1527.85,1091.70 1529.77,1092.26 C1531.69,1092.82 1533.61,1093.37 1535.53,1093.92 C1537.46,1094.46 1539.38,1095.00 1541.30,1095.54 C1543.23,1096.08 1545.15,1096.61 1547.08,1097.14 C1549.00,1097.66 1550.93,1098.19 1552.86,1098.71 C1554.79,1099.22 1556.72,1099.74 1558.65,1100.25 C1560.58,1100.75 1562.51,1101.26 1564.44,1101.76 C1566.37,1102.26 1568.31,1102.75 1570.24,1103.24 C1572.18,1103.73 1574.11,1104.22 1576.05,1104.70 C1577.99,1105.19 1579.92,1105.66 1581.86,1106.14 C1583.80,1106.61 1585.74,1107.08 1587.68,1107.54 C1589.62,1108.01 1591.56,1108.47 1593.51,1108.93 C1595.45,1109.39 1597.39,1109.84 1599.34,1110.29 C1601.28,1110.74 1603.22,1111.18 1605.17,1111.62 C1607.12,1112.06 1609.06,1112.50 1611.01,1112.94 C1612.96,1113.37 1614.91,1113.80 1616.86,1114.23 C1618.80,1114.65 1620.75,1115.07 1622.70,1115.49 C1624.66,1115.91 1626.61,1116.33 1628.56,1116.74 C1630.51,1117.15 1632.46,1117.56 1634.42,1117.97 C1636.37,1118.37 1638.33,1118.77 1640.28,1119.17 C1642.24,1119.57 1644.19,1119.96 1646.15,1120.36 C1648.10,1120.75 1650.06,1121.14 1652.02,1121.52 C1653.98,1121.91 1655.93,1122.29 1657.89,1122.67 C1659.85,1123.05 1661.81,1123.42 1663.77,1123.80 C1665.73,1124.17 1667.69,1124.54 1669.65,1124.91 C1671.61,1125.28 1673.57,1125.64 1675.53,1126.00 C1677.50,1126.36 1679.46,1126.72 1681.42,1127.08 C1683.38,1127.44 1685.35,1127.79 1687.31,1128.14 C1689.28,1128.49 1691.24,1128.84 1693.20,1129.19 C1695.17,1129.53 1697.13,1129.88 1699.10,1130.22 C1701.06,1130.56 1703.03,1130.90 1705.00,1131.23 C1706.96,1131.57 1708.93,1131.90 1710.90,1132.24 C1712.86,1132.57 1714.83,1132.90 1716.80,1133.22 C1718.76,1133.55 1720.73,1133.88 1722.70,1134.20" fill="none" stroke="#00ff00" stroke-width="10" stroke-linejoin="round" stroke-linecap="butt"/>
<path d="M250.00,1144.30 C251.98,1144.25 253.96,1144.21 255.95,1144.18 C257.93,1144.14 259.91,1144.11 261.89,1144.08 C263.87,1144.05 265.86,1144.03 267.84,1144.01 C269.82,1143.99 271.80,1143.97 273.78,1143.96 C275.76,1143.94 277.74,1143.93 279.72,1143.93 C281.70,1143.92 283.69,1143.91 285.67,1143.91 C287.65,1143.91 289.63,1143.91 291.61,1143.91 C293.59,1143.92 295.57,1143.92 297.55,1143.93 C299.53,1143.93 301.51,1143.94 303.49,1143.95 C305.47,1143.96 307.45,1143.97 309.42,1143.98 C311.40,1143.99 313.38,1144.00 315.36,1144.01 C317.34,1144.02 319.32,1144.03 321.30,1144.04 C323.28,1144.06 325.26,1144.07 327.24,1144.08 C329.22,1144.09 331.20,1144.10 333.18,1144.11 C335.16,1144.11 337.13,1144.12 339.11,1144.13 C341.09,1144.14 343.07,1144.14 345.05,1144.14 C347.03,1144.15 349.01,1144.15 350.99,1144.15 C352.97,1144.14 354.95,1144.14 356.92,1144.13 C358.90,1144.13 360.88,1144.12 362.86,1144.11 C364.84,1144.09 366.82,1144.08 368.80,1144.06 C370.78,1144.04 372.76,1144.02 374.74,1143.99 C376.72,1143.96 378.70,1143.93 380.67,1143.90 C382.65,1143.86 384.63,1143.82 386.61,1143.78 C388.59,1143.73 390.57,1143.68 392.55,1143.63 C394.53,1143.57 396.51,1143.51 398.49,1143.45 C400.47,1143.38 402.45,1143.31 404.43,1143.23 C406.41,1143.15 408.39,1143.07 410.37,1142.98 C412.36,1142.89 414.34,1142.79 416.32,1142.68 C418.30,1142.58 420.28,1142.47 422.26,1142.35 C424.24,1142.23 426.22,1142.10 428.20,1141.97 C430.19,1141.83 432.17,1141.70 434.15,1141.56 C436.13,1141.42 438.11,1141.28 440.09,1141.15 C442.07,1141.02 444.05,1140.90 446.03,1140.79 C448.01,1140.67 449.98,1140.57 451.96,1140.49 C453.94,1140.40 455.91,1140.33 457.88,1140.29 C459.85,1140.24 461.83,1140.22 463.79,1140.22 C465.76,1140.23 467.73,1140.26 469.69,1140.32 C471.66,1140.39 473.62,1140.49 475.58,1140.62 C477.54,1140.76 479.49,1140.94 481.44,1141.15 C483.40,1141.37 485.35,1141.64 487.29,1141.95 C489.24,1142.26 491.18,1142.62 493.12,1143.01 C495.06,1143.41 497.00,1143.84 498.93,1144.29 C500.86,1144.75 502.79,1145.24 504.72,1145.74 C506.65,1146.25 508.58,1146.77 510.50,1147.30 M512.0,1146.5 L624.5,1146.5 L643.0,1145.3 L681.7,1145.0 L693.5,1141.3 L705.3,1133.3 L707.0,1132.0 M708.5,1131.5 L718.7,1131.5 L722.0,1130.0 L752.4,1116.0 L780.0,1102.5 L810.0,1088.7 L834.0,1077.0 L837.0,1074.0 L837.00,1074.00 C838.46,1072.56 839.89,1071.10 841.30,1069.63 C842.70,1068.16 844.07,1066.67 845.42,1065.16 C846.77,1063.65 848.09,1062.13 849.39,1060.59 C850.68,1059.05 851.95,1057.50 853.19,1055.93 C854.43,1054.36 855.65,1052.78 856.84,1051.18 C858.04,1049.58 859.20,1047.97 860.35,1046.34 C861.49,1044.71 862.61,1043.07 863.71,1041.42 C864.81,1039.77 865.89,1038.10 866.94,1036.42 C867.99,1034.74 869.03,1033.05 870.04,1031.35 C871.05,1029.64 872.04,1027.93 873.01,1026.20 C873.98,1024.48 874.93,1022.74 875.86,1021.00 C876.79,1019.25 877.71,1017.49 878.60,1015.72 C879.50,1013.96 880.37,1012.18 881.23,1010.39 C882.09,1008.61 882.93,1006.81 883.76,1005.01 C884.58,1003.20 885.39,1001.39 886.19,999.57 C886.98,997.75 887.76,995.92 888.53,994.09 C889.29,992.25 890.04,990.41 890.78,988.56 C891.52,986.71 892.24,984.85 892.95,982.99 C893.66,981.13 894.36,979.26 895.05,977.39 C895.73,975.52 896.41,973.64 897.07,971.76 C897.74,969.87 898.39,967.99 899.04,966.10 C899.68,964.20 900.32,962.31 900.94,960.41 C901.57,958.51 902.19,956.61 902.79,954.71 C903.40,952.80 904.00,950.89 904.60,948.99 C905.19,947.08 905.78,945.17 906.36,943.25 C906.94,941.34 907.52,939.43 908.09,937.51 C908.66,935.59 909.22,933.68 909.78,931.76 C910.33,929.84 910.88,927.92 911.43,926.00 C911.97,924.08 912.51,922.16 913.05,920.23 C913.58,918.31 914.11,916.38 914.63,914.45 C915.15,912.53 915.67,910.60 916.18,908.67 C916.69,906.74 917.20,904.81 917.70,902.88 C918.20,900.95 918.70,899.01 919.19,897.08 C919.68,895.14 920.17,893.21 920.65,891.27 C921.13,889.33 921.60,887.40 922.07,885.46 C922.55,883.52 923.01,881.58 923.47,879.64 C923.94,877.70 924.39,875.75 924.85,873.81 C925.30,871.87 925.75,869.92 926.19,867.98 C926.63,866.03 927.07,864.09 927.51,862.14 C927.95,860.19 928.38,858.24 928.80,856.29 C929.23,854.34 929.66,852.39 930.07,850.44 C930.49,848.49 930.91,846.54 931.32,844.59 C931.73,842.64 932.14,840.68 932.55,838.73 C932.95,836.77 933.35,834.82 933.75,832.86 C934.15,830.91 934.54,828.95 934.93,826.99 C935.32,825.04 935.71,823.08 936.10,821.12 C936.48,819.16 936.86,817.20 937.24,815.24 C937.62,813.28 937.99,811.32 938.37,809.36 C938.74,807.40 939.11,805.44 939.48,803.48 C939.84,801.51 940.21,799.55 940.57,797.59 C940.93,795.63 941.29,793.66 941.65,791.70 C942.01,789.73 942.36,787.77 942.71,785.81 C943.06,783.84 943.41,781.88 943.76,779.91 C944.11,777.94 944.46,775.98 944.80,774.01 C945.14,772.05 945.49,770.08 945.83,768.11 C946.17,766.15 946.51,764.18 946.84,762.21 C947.18,760.24 947.52,758.28 947.85,756.31 C948.18,754.34 948.52,752.37 948.85,750.40 C949.18,748.44 949.51,746.47 949.83,744.50 C950.16,742.53 950.49,740.56 950.82,738.59 C951.14,736.62 951.47,734.66 951.79,732.69 C952.12,730.72 952.44,728.75 952.76,726.78 C953.08,724.81 953.40,722.84 953.72,720.87 C954.04,718.90 954.36,716.94 954.68,714.97 C955.00,713.00 955.31,711.03 955.63,709.06 C955.95,707.09 956.26,705.12 956.58,703.15 C956.89,701.18 957.20,699.21 957.51,697.24 C957.83,695.27 958.14,693.30 958.45,691.33 C958.76,689.36 959.07,687.39 959.38,685.42 C959.68,683.45 959.99,681.48 960.30,679.51 C960.60,677.54 960.91,675.57 961.21,673.60 C961.52,671.63 961.82,669.66 962.13,667.69 C962.43,665.72 962.73,663.75 963.03,661.78 C963.34,659.81 963.64,657.84 963.94,655.86 C964.24,653.89 964.53,651.92 964.83,649.95 C965.13,647.98 965.43,646.01 965.73,644.04 C966.02,642.07 966.32,640.10 966.61,638.12 C966.91,636.15 967.20,634.18 967.50,632.21 C967.79,630.24 968.08,628.27 968.38,626.30 C968.67,624.32 968.96,622.35 969.25,620.38 C969.54,618.41 969.83,616.44 970.12,614.46 C970.41,612.49 970.70,610.52 970.99,608.55 C971.28,606.57 971.56,604.60 971.85,602.63 C972.14,600.66 972.42,598.68 972.71,596.71 C972.99,594.74 973.28,592.77 973.56,590.79 C973.85,588.82 974.13,586.85 974.42,584.87 C974.70,582.90 974.98,580.93 975.26,578.96 C975.55,576.98 975.83,575.01 976.11,573.04 C976.39,571.06 976.67,569.09 976.95,567.11 C977.23,565.14 977.51,563.17 977.79,561.19 C978.07,559.22 978.35,557.25 978.63,555.27 C978.90,553.30 979.18,551.32 979.46,549.35 C979.74,547.38 980.01,545.40 980.29,543.43 C980.56,541.45 980.84,539.48 981.12,537.50 C981.39,535.53 981.67,533.55 981.94,531.58 C982.22,529.60 982.49,527.63 982.76,525.65 C983.04,523.68 983.31,521.70 983.58,519.73 C983.86,517.75 984.13,515.78 984.40,513.80 C984.67,511.83 984.95,509.85 985.22,507.88 C985.49,505.90 985.76,503.93 986.03,501.95 C986.30,499.97 986.57,498.00 986.84,496.02 C987.12,494.05 987.39,492.07 987.66,490.09 C987.93,488.12 988.20,486.14 988.46,484.17 C988.73,482.19 989.00,480.21 989.27,478.24 C989.54,476.26 989.81,474.28 990.08,472.31 C990.35,470.33 990.62,468.35 990.88,466.38 C991.15,464.40 991.42,462.42 991.69,460.44 C991.96,458.47 992.22,456.49 992.49,454.51 C992.76,452.53 993.03,450.56 993.29,448.58 C993.56,446.60 993.83,444.62 994.10,442.65 C994.36,440.67 994.63,438.69 994.90,436.71 C995.16,434.73 995.43,432.76 995.70,430.78 C995.96,428.80 996.23,426.82 996.50,424.84 C996.76,422.86 997.03,420.88 997.30,418.91 C997.56,416.93 997.83,414.95 998.10,412.97 C998.36,410.99 998.63,409.01 998.89,407.03 C999.16,405.05 999.43,403.07 999.69,401.09 C999.96,399.11 1000.23,397.13 1000.49,395.15 C1000.76,393.18 1001.03,391.20 1001.29,389.22 C1001.56,387.24 1001.83,385.26 1002.09,383.28 C1002.36,381.30 1002.63,379.32 1002.89,377.33 C1003.16,375.35 1003.43,373.37 1003.70,371.39 C1003.96,369.41 1004.23,367.43 1004.50,365.45 C1004.77,363.47 1005.03,361.49 1005.30,359.51 C1005.57,357.53 1005.84,355.55 1006.11,353.56 C1006.37,351.58 1006.64,349.60 1006.91,347.62 C1007.18,345.64 1007.45,343.66 1007.72,341.68 C1007.99,339.69 1008.26,337.71 1008.52,335.73 C1008.79,333.75 1009.06,331.77 1009.33,329.78 C1009.60,327.80 1009.87,325.82 1010.14,323.84 C1010.42,321.85 1010.69,319.87 1010.96,317.89 C1011.23,315.91 1011.50,313.92 1011.77,311.94 C1012.04,309.96 1012.32,307.97 1012.59,305.99 C1012.86,304.01 1013.13,302.02 1013.41,300.04 C1013.68,298.06 1013.95,296.07 1014.23,294.09 C1014.50,292.11 1014.77,290.13 1015.05,288.14 C1015.32,286.16 1015.60,284.18 1015.87,282.20 C1016.15,280.22 1016.42,278.23 1016.70,276.25 C1016.97,274.27 1017.25,272.29 1017.53,270.31 C1017.80,268.33 1018.08,266.35 1018.36,264.37 C1018.63,262.40 1018.91,260.42 1019.19,258.44 C1019.47,256.46 1019.75,254.49 1020.02,252.51 C1020.30,250.54 1020.58,248.56 1020.86,246.59 C1021.14,244.62 1021.42,242.65 1021.70,240.67 C1021.98,238.70 1022.26,236.73 1022.54,234.76 C1022.82,232.80 1023.10,230.83 1023.39,228.86 C1023.67,226.90 1023.95,224.93 1024.23,222.97 C1024.52,221.01 1024.80,219.04 1025.08,217.08 C1025.36,215.12 1025.65,213.17 1025.93,211.21 C1026.22,209.25 1026.50,207.30 1026.79,205.34 C1027.07,203.39 1027.36,201.44 1027.64,199.49 C1027.93,197.54 1028.21,195.59 1028.50,193.65 C1028.79,191.70 1029.07,189.76 1029.36,187.82 C1029.65,185.88 1029.93,183.94 1030.22,182.00 C1030.51,180.06 1030.80,178.13 1031.09,176.20 C1031.38,174.26 1031.67,172.33 1031.96,170.41 C1032.25,168.48 1032.53,166.55 1032.84,164.62 C1033.14,162.68 1033.46,160.74 1033.82,158.76 C1034.19,156.77 1034.59,154.76 1035.05,152.69 C1035.51,150.63 1036.03,148.51 1036.63,146.32 C1037.24,144.13 1037.93,141.84 1038.70,139.61 C1039.47,137.39 1040.32,135.22 1041.24,133.28 C1042.15,131.33 1043.14,129.62 1044.19,128.28 C1045.24,126.95 1046.37,126.01 1047.48,125.59 C1048.60,125.16 1049.69,125.25 1050.65,125.93 C1051.62,126.62 1052.45,127.88 1053.19,129.49 C1053.93,131.10 1054.57,133.04 1055.14,135.09 C1055.70,137.14 1056.20,139.25 1056.65,141.32 C1057.10,143.39 1057.49,145.43 1057.84,147.46 C1058.20,149.49 1058.51,151.51 1058.79,153.51 C1059.07,155.52 1059.32,157.51 1059.56,159.50 C1059.79,161.49 1060.01,163.47 1060.21,165.45 C1060.42,167.42 1060.62,169.40 1060.82,171.38 C1061.02,173.36 1061.22,175.34 1061.42,177.32 C1061.62,179.30 1061.82,181.28 1062.02,183.26 C1062.21,185.24 1062.41,187.22 1062.60,189.20 C1062.80,191.18 1062.99,193.16 1063.18,195.14 C1063.37,197.12 1063.56,199.10 1063.75,201.09 C1063.94,203.07 1064.13,205.05 1064.32,207.03 C1064.51,209.02 1064.69,211.00 1064.88,212.98 C1065.06,214.97 1065.25,216.95 1065.43,218.93 C1065.61,220.92 1065.79,222.90 1065.97,224.89 C1066.15,226.87 1066.33,228.86 1066.51,230.84 C1066.69,232.83 1066.87,234.81 1067.04,236.80 C1067.22,238.78 1067.40,240.77 1067.57,242.75 C1067.74,244.74 1067.92,246.73 1068.09,248.71 C1068.26,250.70 1068.43,252.69 1068.60,254.68 C1068.77,256.66 1068.94,258.65 1069.11,260.64 C1069.28,262.63 1069.45,264.61 1069.61,266.60 C1069.78,268.59 1069.94,270.58 1070.11,272.57 C1070.27,274.56 1070.44,276.55 1070.60,278.53 C1070.76,280.52 1070.92,282.51 1071.08,284.50 C1071.24,286.49 1071.40,288.48 1071.56,290.47 C1071.72,292.46 1071.88,294.45 1072.04,296.44 C1072.19,298.43 1072.35,300.42 1072.50,302.41 C1072.66,304.40 1072.81,306.40 1072.97,308.39 C1073.12,310.38 1073.27,312.37 1073.43,314.36 C1073.58,316.35 1073.73,318.34 1073.88,320.33 C1074.03,322.33 1074.18,324.32 1074.33,326.31 C1074.48,328.30 1074.63,330.29 1074.77,332.29 C1074.92,334.28 1075.07,336.27 1075.21,338.26 C1075.36,340.26 1075.50,342.25 1075.65,344.24 C1075.79,346.23 1075.94,348.23 1076.08,350.22 C1076.22,352.21 1076.36,354.21 1076.50,356.20 C1076.65,358.19 1076.79,360.18 1076.93,362.18 C1077.07,364.17 1077.21,366.16 1077.34,368.16 C1077.48,370.15 1077.62,372.14 1077.76,374.14 C1077.90,376.13 1078.03,378.13 1078.17,380.12 C1078.30,382.11 1078.44,384.11 1078.57,386.10 C1078.71,388.09 1078.84,390.09 1078.98,392.08 C1079.11,394.08 1079.24,396.07 1079.38,398.06 C1079.51,400.06 1079.64,402.05 1079.77,404.05 C1079.90,406.04 1080.03,408.03 1080.16,410.03 C1080.29,412.02 1080.42,414.02 1080.55,416.01 C1080.68,418.00 1080.81,420.00 1080.94,421.99 C1081.07,423.98 1081.19,425.98 1081.32,427.97 C1081.45,429.97 1081.57,431.96 1081.70,433.95 C1081.83,435.95 1081.95,437.94 1082.08,439.94 C1082.20,441.93 1082.33,443.92 1082.45,445.92 C1082.58,447.91 1082.70,449.90 1082.82,451.90 C1082.95,453.89 1083.07,455.89 1083.19,457.88 C1083.32,459.87 1083.44,461.87 1083.56,463.86 C1083.68,465.85 1083.80,467.85 1083.92,469.84 C1084.05,471.83 1084.17,473.82 1084.29,475.82 C1084.41,477.81 1084.53,479.80 1084.65,481.80 C1084.77,483.79 1084.89,485.78 1085.01,487.77 C1085.12,489.77 1085.24,491.76 1085.36,493.75 C1085.48,495.74 1085.60,497.74 1085.72,499.73 C1085.83,501.72 1085.95,503.71 1086.07,505.70 C1086.19,507.70 1086.30,509.69 1086.42,511.68 C1086.54,513.67 1086.65,515.66 1086.77,517.65 C1086.89,519.64 1087.00,521.64 1087.12,523.63 C1087.23,525.62 1087.35,527.61 1087.47,529.60 C1087.58,531.59 1087.70,533.58 1087.81,535.57 C1087.93,537.56 1088.04,539.55 1088.16,541.54 C1088.27,543.53 1088.39,545.52 1088.50,547.51 C1088.62,549.50 1088.73,551.49 1088.85,553.48 C1088.96,555.47 1089.08,557.45 1089.19,559.44 C1089.31,561.43 1089.42,563.42 1089.54,565.41 C1089.65,567.40 1089.77,569.39 1089.88,571.37 C1090.00,573.36 1090.11,575.35 1090.23,577.34 C1090.35,579.33 1090.46,581.32 1090.58,583.30 C1090.70,585.29 1090.81,587.28 1090.93,589.27 C1091.05,591.25 1091.16,593.24 1091.28,595.23 C1091.40,597.22 1091.52,599.20 1091.64,601.19 C1091.76,603.18 1091.88,605.17 1091.99,607.15 C1092.11,609.14 1092.23,611.13 1092.36,613.11 C1092.48,615.10 1092.60,617.09 1092.72,619.07 C1092.84,621.06 1092.96,623.05 1093.09,625.03 C1093.21,627.02 1093.33,629.01 1093.46,630.99 C1093.58,632.98 1093.71,634.96 1093.83,636.95 C1093.96,638.94 1094.09,640.92 1094.21,642.91 C1094.34,644.89 1094.47,646.88 1094.60,648.87 C1094.73,650.85 1094.86,652.84 1094.99,654.82 C1095.12,656.81 1095.25,658.80 1095.38,660.78 C1095.52,662.77 1095.65,664.75 1095.78,666.74 C1095.92,668.72 1096.05,670.71 1096.19,672.70 C1096.33,674.68 1096.46,676.67 1096.60,678.65 C1096.74,680.64 1096.88,682.62 1097.02,684.61 C1097.16,686.59 1097.31,688.58 1097.45,690.56 C1097.59,692.55 1097.74,694.54 1097.89,696.52 C1098.03,698.51 1098.18,700.49 1098.33,702.48 C1098.48,704.46 1098.63,706.45 1098.78,708.43 C1098.93,710.42 1099.08,712.40 1099.23,714.39 C1099.39,716.38 1099.54,718.36 1099.70,720.35 C1099.86,722.33 1100.02,724.32 1100.18,726.30 C1100.34,728.29 1100.50,730.27 1100.66,732.26 C1100.82,734.24 1100.99,736.23 1101.16,738.22 C1101.32,740.20 1101.49,742.19 1101.66,744.17 C1101.83,746.16 1102.00,748.14 1102.17,750.13 C1102.35,752.12 1102.52,754.10 1102.70,756.09 C1102.87,758.07 1103.05,760.06 1103.23,762.04 C1103.41,764.03 1103.59,766.02 1103.78,768.00 C1103.96,769.99 1104.15,771.98 1104.34,773.96 C1104.52,775.95 1104.71,777.93 1104.90,779.92 C1105.10,781.91 1105.29,783.89 1105.48,785.88 C1105.68,787.87 1105.88,789.85 1106.08,791.84 C1106.28,793.83 1106.48,795.81 1106.68,797.80 C1106.89,799.79 1107.09,801.77 1107.30,803.76 C1107.51,805.75 1107.72,807.73 1107.93,809.72 C1108.15,811.71 1108.36,813.70 1108.58,815.68 C1108.80,817.67 1109.02,819.66 1109.24,821.65 C1109.46,823.63 1109.68,825.62 1109.91,827.61 C1110.14,829.60 1110.37,831.59 1110.60,833.57 C1110.83,835.56 1111.06,837.55 1111.30,839.54 C1111.54,841.53 1111.77,843.52 1112.02,845.51 C1112.26,847.49 1112.50,849.48 1112.75,851.47 C1113.00,853.46 1113.24,855.45 1113.50,857.44 C1113.75,859.43 1114.00,861.42 1114.26,863.41 C1114.52,865.40 1114.78,867.39 1115.04,869.38 C1115.30,871.37 1115.57,873.36 1115.84,875.35 C1116.11,877.34 1116.38,879.33 1116.65,881.32 C1116.93,883.31 1117.20,885.30 1117.48,887.29 C1117.76,889.28 1118.05,891.27 1118.33,893.27 C1118.62,895.26 1118.91,897.25 1119.20,899.24 C1119.49,901.23 1119.78,903.22 1120.08,905.22 C1120.38,907.21 1120.68,909.20 1120.98,911.19 C1121.29,913.19 1121.60,915.18 1121.91,917.17 C1122.22,919.16 1122.53,921.16 1122.85,923.15 C1123.16,925.14 1123.48,927.14 1123.81,929.13 C1124.14,931.12 1124.47,933.11 1124.81,935.10 C1125.15,937.09 1125.50,939.07 1125.85,941.06 C1126.21,943.04 1126.57,945.02 1126.95,946.99 C1127.33,948.97 1127.71,950.94 1128.11,952.90 C1128.51,954.87 1128.92,956.83 1129.34,958.78 C1129.77,960.74 1130.21,962.69 1130.66,964.63 C1131.12,966.57 1131.59,968.50 1132.07,970.43 C1132.56,972.35 1133.07,974.27 1133.59,976.18 C1134.11,978.08 1134.65,979.98 1135.22,981.87 C1135.78,983.76 1136.36,985.64 1136.97,987.50 C1137.58,989.37 1138.20,991.22 1138.86,993.07 C1139.51,994.91 1140.18,996.74 1140.88,998.56 C1141.59,1000.38 1142.31,1002.18 1143.07,1003.97 C1143.82,1005.76 1144.60,1007.54 1145.41,1009.30 C1146.22,1011.06 1147.06,1012.81 1147.93,1014.53 C1148.80,1016.26 1149.70,1017.98 1150.64,1019.67 C1151.57,1021.37 1152.53,1023.05 1153.53,1024.71 C1154.53,1026.37 1155.56,1028.01 1156.63,1029.63 C1157.70,1031.26 1158.80,1032.86 1159.94,1034.44 C1161.08,1036.03 1162.26,1037.59 1163.48,1039.13 C1164.70,1040.68 1165.95,1042.20 1167.25,1043.69 C1168.54,1045.19 1169.88,1046.67 1171.26,1048.12 C1172.64,1049.58 1174.05,1051.01 1175.51,1052.41 C1176.96,1053.81 1178.45,1055.19 1179.97,1056.55 C1181.50,1057.90 1183.05,1059.22 1184.64,1060.52 C1186.23,1061.82 1187.84,1063.09 1189.49,1064.32 C1191.13,1065.56 1192.80,1066.77 1194.50,1067.95 C1196.19,1069.12 1197.91,1070.27 1199.65,1071.38 C1201.39,1072.49 1203.15,1073.57 1204.92,1074.61 C1206.70,1075.65 1208.49,1076.66 1210.30,1077.63 C1212.11,1078.60 1213.93,1079.54 1215.76,1080.43 C1217.59,1081.33 1219.44,1082.18 1221.29,1083.00 C1223.14,1083.82 1225.00,1084.59 1226.86,1085.33 C1228.73,1086.06 1230.60,1086.76 1232.47,1087.42 C1234.35,1088.08 1236.22,1088.71 1238.11,1089.31 C1239.99,1089.91 1241.88,1090.47 1243.77,1091.02 C1245.67,1091.56 1247.56,1092.09 1249.46,1092.59 C1251.36,1093.09 1253.27,1093.58 1255.18,1094.05 C1257.08,1094.52 1259.00,1094.98 1260.91,1095.43 C1262.82,1095.88 1264.74,1096.32 1266.66,1096.76 C1268.58,1097.20 1270.51,1097.63 1272.44,1098.06 C1274.36,1098.48 1276.29,1098.90 1278.22,1099.32 C1280.16,1099.73 1282.09,1100.14 1284.03,1100.54 C1285.97,1100.94 1287.91,1101.34 1289.85,1101.73 C1291.79,1102.12 1293.74,1102.51 1295.69,1102.89 C1297.63,1103.27 1299.58,1103.65 1301.54,1104.02 C1303.49,1104.39 1305.44,1104.76 1307.40,1105.12 C1309.36,1105.48 1311.31,1105.84 1313.27,1106.19 C1315.23,1106.55 1317.20,1106.90 1319.16,1107.24 C1321.12,1107.59 1323.09,1107.93 1325.06,1108.27 C1327.03,1108.60 1328.99,1108.94 1330.96,1109.27 C1332.94,1109.60 1334.91,1109.92 1336.88,1110.25 C1338.85,1110.57 1340.83,1110.89 1342.80,1111.21 C1344.78,1111.53 1346.76,1111.84 1348.73,1112.15 C1350.71,1112.46 1352.69,1112.77 1354.67,1113.08 C1356.65,1113.39 1358.63,1113.69 1360.62,1113.99 C1362.60,1114.29 1364.58,1114.59 1366.56,1114.89 C1368.55,1115.19 1370.53,1115.48 1372.51,1115.78 C1374.50,1116.07 1376.48,1116.36 1378.47,1116.65 C1380.45,1116.94 1382.44,1117.23 1384.43,1117.52 C1386.41,1117.81 1388.40,1118.10 1390.38,1118.38 C1392.37,1118.67 1394.36,1118.95 1396.34,1119.24 C1398.33,1119.52 1400.32,1119.80 1402.30,1120.09 C1404.29,1120.37 1406.27,1120.65 1408.26,1120.94 C1410.24,1121.22 1412.23,1121.50 1414.21,1121.78 C1416.20,1122.06 1418.18,1122.35 1420.17,1122.63 C1422.15,1122.91 1424.13,1123.20 1426.12,1123.48 C1428.10,1123.76 1430.08,1124.05 1432.06,1124.33 C1434.04,1124.62 1436.02,1124.90 1438.00,1125.19 C1439.98,1125.48 1441.96,1125.77 1443.93,1126.05 C1445.91,1126.34 1447.89,1126.63 1449.86,1126.93 C1451.84,1127.22 1453.81,1127.51 1455.78,1127.80 C1457.76,1128.10 1459.73,1128.39 1461.70,1128.68 C1463.67,1128.98 1465.64,1129.28 1467.61,1129.57 C1469.58,1129.87 1471.55,1130.17 1473.52,1130.47 C1475.49,1130.77 1477.46,1131.06 1479.43,1131.36 C1481.40,1131.67 1483.36,1131.97 1485.33,1132.27 C1487.30,1132.57 1489.27,1132.87 1491.23,1133.18 C1493.20,1133.48 1495.16,1133.78 1497.13,1134.09 C1499.10,1134.39 1501.06,1134.70 1503.03,1135.01 C1504.99,1135.31 1506.96,1135.62 1508.92,1135.93 C1510.89,1136.23 1512.85,1136.54 1514.82,1136.85 C1516.78,1137.16 1518.74,1137.47 1520.71,1137.78 C1522.67,1138.09 1524.64,1138.40 1526.60,1138.71 C1528.57,1139.02 1530.53,1139.33 1532.50,1139.64 C1534.46,1139.95 1536.43,1140.26 1538.39,1140.58 C1540.36,1140.89 1542.32,1141.20 1544.29,1141.52 C1546.26,1141.83 1548.22,1142.14 1550.19,1142.46 C1552.15,1142.77 1554.12,1143.08 1556.09,1143.40 C1558.06,1143.71 1560.02,1144.03 1561.99,1144.34 C1563.96,1144.66 1565.93,1144.97 1567.90,1145.29 C1569.87,1145.60 1571.84,1145.92 1573.81,1146.23 C1575.78,1146.55 1577.75,1146.86 1579.72,1147.18 C1581.70,1147.49 1583.67,1147.80 1585.64,1148.11 C1587.62,1148.42 1589.59,1148.73 1591.56,1149.04 C1593.54,1149.34 1595.51,1149.64 1597.49,1149.94 C1599.47,1150.24 1601.44,1150.54 1603.42,1150.83 C1605.40,1151.12 1607.37,1151.40 1609.35,1151.68 C1611.33,1151.96 1613.31,1152.23 1615.29,1152.50 C1617.27,1152.77 1619.25,1153.03 1621.23,1153.28 C1623.21,1153.54 1625.19,1153.78 1627.17,1154.02 C1629.15,1154.26 1631.13,1154.49 1633.12,1154.71 C1635.10,1154.93 1637.08,1155.14 1639.07,1155.34 C1641.05,1155.54 1643.04,1155.73 1645.02,1155.91 C1647.01,1156.09 1648.99,1156.26 1650.98,1156.42 C1652.96,1156.57 1654.95,1156.72 1656.94,1156.85 C1658.92,1156.98 1660.91,1157.10 1662.90,1157.21 C1664.89,1157.31 1666.88,1157.41 1668.87,1157.48 C1670.86,1157.56 1672.85,1157.62 1674.84,1157.67 C1676.83,1157.72 1678.82,1157.75 1680.81,1157.77 C1682.80,1157.78 1684.79,1157.78 1686.78,1157.77 C1688.78,1157.75 1690.77,1157.71 1692.76,1157.66 C1694.76,1157.61 1696.75,1157.54 1698.75,1157.45 C1700.74,1157.36 1702.73,1157.25 1704.73,1157.12 C1706.72,1156.99 1708.72,1156.84 1710.72,1156.67 C1712.71,1156.50 1714.71,1156.31 1716.71,1156.10 C1718.70,1155.89 1720.70,1155.65 1722.70,1155.40" fill="none" stroke="#0000ff" stroke-width="10" stroke-linejoin="round" stroke-linecap="butt"/>
<polygon points="219,1075 223.9,1075.1 224.8,1077.3 226,1084 227,1096.3 227.9,1107.9 228.8,1115.9 229.7,1121.4 230.9,1125.1 233.4,1129.4 235.8,1132.4 238.3,1136.1 242,1138.5 248.1,1139.8 256,1139.8 256,1149.9 250.5,1149.9 242,1148.3 233.4,1145.3 227.3,1140.4 222.7,1132.4 219,1130" fill="#0000ff"/>
</g>
<rect x="217" y="42" width="1514" height="6" fill="#000"/>
<rect x="217" y="1257" width="1514" height="5" fill="#000"/>
<rect x="217" y="42" width="5" height="1220" fill="#000"/>
<rect x="1726" y="42" width="5" height="1220" fill="#000"/>
<rect x="195" y="1256.75" width="22" height="5.5" fill="#000"/>
<rect x="207" y="1135.30" width="10" height="5.5" fill="#000"/>
<rect x="195" y="1013.85" width="22" height="5.5" fill="#000"/>
<rect x="207" y="892.40" width="10" height="5.5" fill="#000"/>
<rect x="195" y="770.95" width="22" height="5.5" fill="#000"/>
<rect x="207" y="649.50" width="10" height="5.5" fill="#000"/>
<rect x="195" y="528.05" width="22" height="5.5" fill="#000"/>
<rect x="207" y="406.60" width="10" height="5.5" fill="#000"/>
<rect x="195" y="285.15" width="22" height="5.5" fill="#000"/>
<rect x="207" y="163.70" width="10" height="5.5" fill="#000"/>
<rect x="195" y="42.25" width="22" height="5.5" fill="#000"/>
<rect x="217.00" y="1262" width="5" height="22" fill="#000"/>
<rect x="292.45" y="1262" width="5" height="10" fill="#000"/>
<rect x="367.90" y="1262" width="5" height="22" fill="#000"/>
<rect x="443.35" y="1262" width="5" height="10" fill="#000"/>
<rect x="518.80" y="1262" width="5" height="22" fill="#000"/>
<rect x="594.25" y="1262" width="5" height="10" fill="#000"/>
<rect x="669.70" y="1262" width="5" height="22" fill="#000"/>
<rect x="745.15" y="1262" width="5" height="10" fill="#000"/>
<rect x="820.60" y="1262" width="5" height="22" fill="#000"/>
<rect x="896.05" y="1262" width="5" height="10" fill="#000"/>
<rect x="971.50" y="1262" width="5" height="22" fill="#000"/>
<rect x="1046.95" y="1262" width="5" height="10" fill="#000"/>
<rect x="1122.40" y="1262" width="5" height="22" fill="#000"/>
<rect x="1197.85" y="1262" width="5" height="10" fill="#000"/>
<rect x="1273.30" y="1262" width="5" height="22" fill="#000"/>
<rect x="1348.75" y="1262" width="5" height="10" fill="#000"/>
<rect x="1424.20" y="1262" width="5" height="22" fill="#000"/>
<rect x="1499.65" y="1262" width="5" height="10" fill="#000"/>
<rect x="1575.10" y="1262" width="5" height="22" fill="#000"/>
<rect x="1650.55" y="1262" width="5" height="10" fill="#000"/>
<rect x="1726.00" y="1262" width="5" height="22" fill="#000"/>
<rect x="270" y="385" width="3" height="137" fill="#000"/>
<polygon points="271.5,351 262,389 281,389" fill="#000"/>
<rect x="1440.5" y="60.5" width="268" height="209" fill="none" stroke="#000" stroke-width="1.2"/>
<rect x="1445" y="85.0" width="91" height="10" fill="#000000"/>
<rect x="1445" y="135.3" width="91" height="10" fill="#ff0000"/>
<rect x="1445" y="185.6" width="91" height="10" fill="#00ff00"/>
<rect x="1445" y="235.9" width="91" height="10" fill="#0000ff"/>
<g font-family='"Liberation Sans", Arial, sans-serif' font-weight="bold" fill="#000">
<text transform="translate(179.5,1272.5) scale(0.962,1)" text-anchor="end" font-size="47">-0.5</text>
<text transform="translate(179.5,1029.6) scale(0.962,1)" text-anchor="end" font-size="47">0.0</text>
<text transform="translate(179.5,786.7) scale(0.962,1)" text-anchor="end" font-size="47">0.5</text>
<text transform="translate(179.5,543.8) scale(0.962,1)" text-anchor="end" font-size="47">1.0</text>
<text transform="translate(179.5,300.9) scale(0.962,1)" text-anchor="end" font-size="47">1.5</text>
<text transform="translate(179.5,58.0) scale(0.962,1)" text-anchor="end" font-size="47">2.0</text>
<text transform="translate(219.5,1335) scale(0.962,1)" text-anchor="middle" font-size="47">0</text>
<text transform="translate(370.4,1335) scale(0.962,1)" text-anchor="middle" font-size="47">25</text>
<text transform="translate(521.3,1335) scale(0.962,1)" text-anchor="middle" font-size="47">50</text>
<text transform="translate(672.2,1335) scale(0.962,1)" text-anchor="middle" font-size="47">75</text>
<text transform="translate(823.1,1335) scale(0.962,1)" text-anchor="middle" font-size="47">100</text>
<text transform="translate(974.0,1335) scale(0.962,1)" text-anchor="middle" font-size="47">125</text>
<text transform="translate(1124.9,1335) scale(0.962,1)" text-anchor="middle" font-size="47">150</text>
<text transform="translate(1275.8,1335) scale(0.962,1)" text-anchor="middle" font-size="47">175</text>
<text transform="translate(1426.7,1335) scale(0.962,1)" text-anchor="middle" font-size="47">200</text>
<text transform="translate(1577.6,1335) scale(0.962,1)" text-anchor="middle" font-size="47">225</text>
<text transform="translate(1728.5,1335) scale(0.962,1)" text-anchor="middle" font-size="47">250</text>
<text x="973" y="1431" text-anchor="middle" font-size="57.8">Temperature (°C)</text>
<text transform="translate(74,651.5) rotate(-90)" text-anchor="middle" font-size="57.5">Heat flow (W.g<tspan dy="-23" font-size="38.5">−1</tspan><tspan dy="23">)</tspan></text>
<text x="291" y="465.7" font-size="51">Exo</text>
<text x="1547.6" y="103.0" font-size="41.8">T-HHPA</text>
<text x="1547.6" y="153.5" font-size="41.8">T-HMPA</text>
<text x="1547.6" y="204.0" font-size="41.8">T-MNA</text>
<text x="1547.6" y="254.5" font-size="41.8">T-THPA</text>
</g>
</svg>
</body></html>
